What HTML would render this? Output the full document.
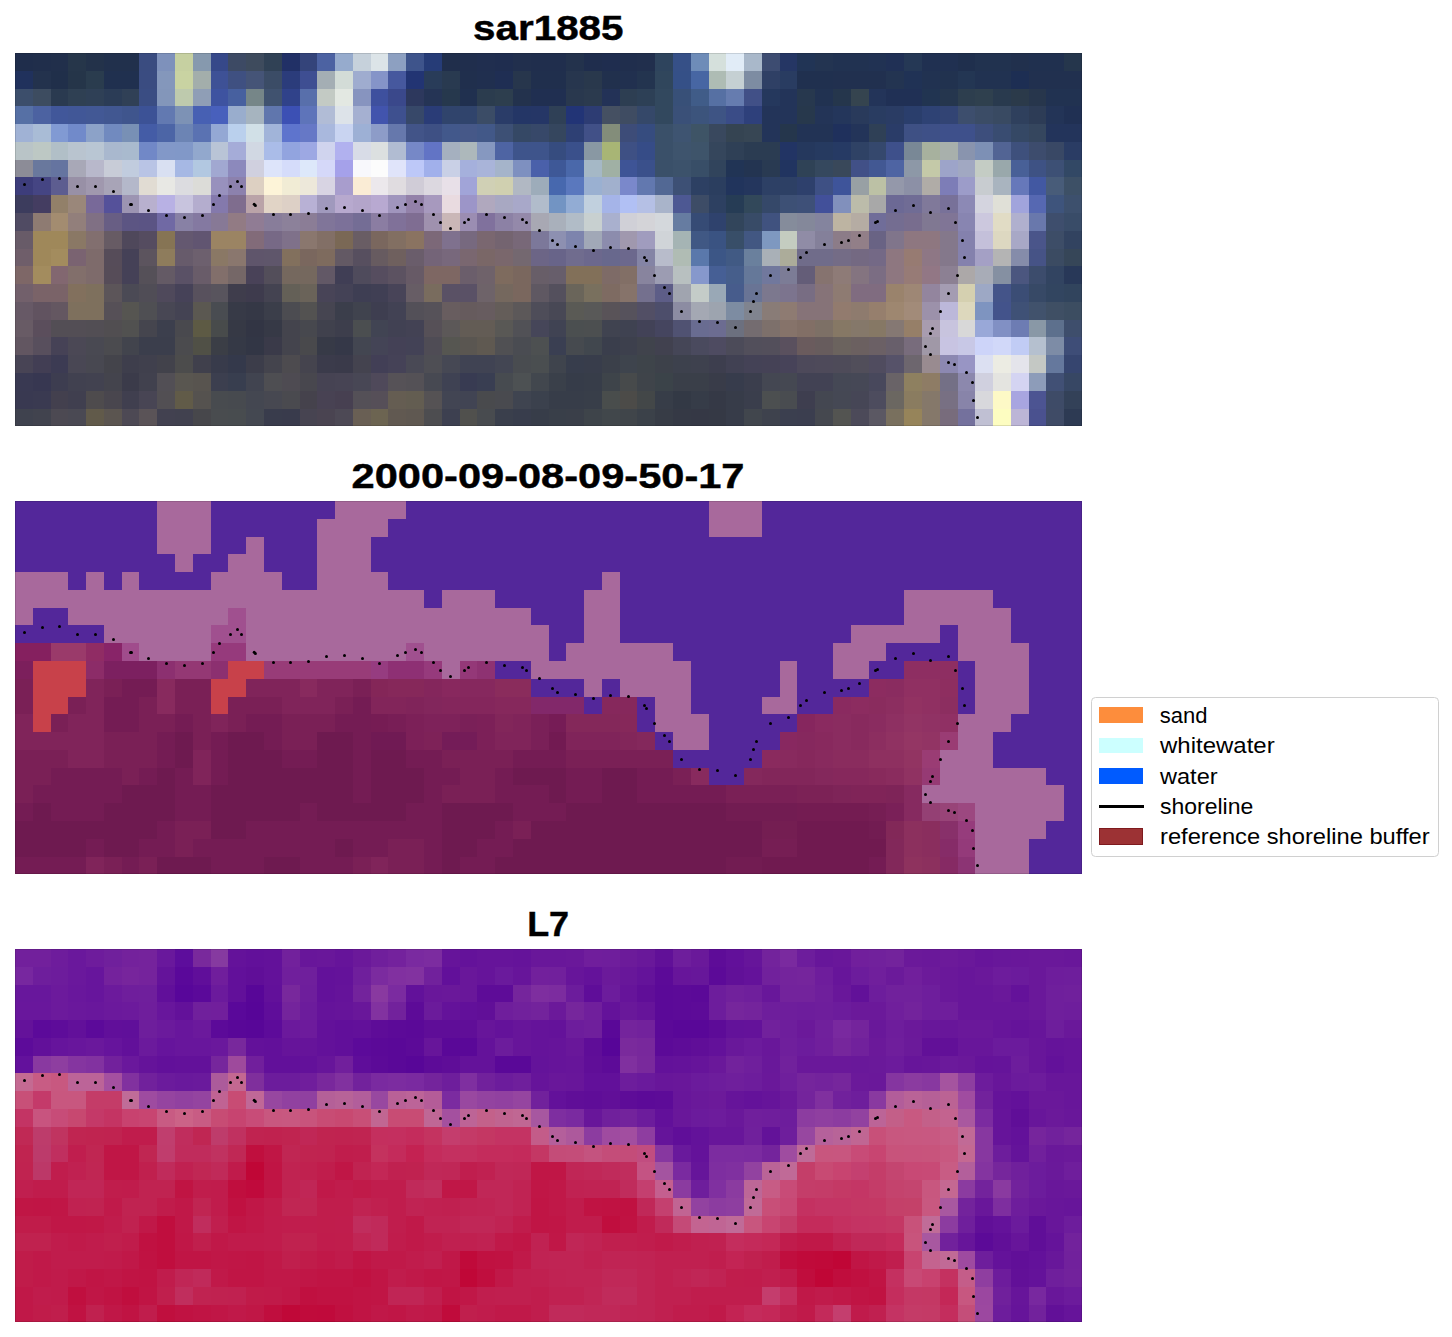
<!DOCTYPE html>
<html><head><meta charset="utf-8"><title>shoreline</title>
<style>
html,body{margin:0;padding:0;background:#fff}
body{width:1452px;height:1337px;position:relative;overflow:hidden;font-family:"Liberation Sans",sans-serif}
.g{position:absolute;display:block}
.t{position:absolute;left:15px;width:1067px;text-align:center;font-weight:bold;font-size:34.5px;line-height:40px;color:#000;white-space:nowrap;-webkit-text-stroke:0.45px #000}
.t span{display:inline-block;transform-origin:50% 50%}
.lg{position:absolute;left:1091.3px;top:697.2px;width:347.6px;height:159.4px;border:1.8px solid #d0d0d0;border-radius:4.5px;box-sizing:border-box;background:#fff}
.lt{position:absolute;left:1159.7px;font-size:22px;line-height:26px;color:#000;white-space:nowrap;transform-origin:0 50%}
.sw{position:absolute;left:1099.05px;width:43.8px;height:15.7px;display:block}
.rim{position:absolute;left:15px;width:1067px;height:373px;box-shadow:inset 0 0 0 1px rgba(0,0,0,0.12);pointer-events:none}
</style></head><body>
<div class="t" style="top:8.3px"><span style="transform:scaleX(1.17)">sar1885</span></div>
<svg class="g" style="left:15px;top:53px" width="1067" height="373.4" viewBox="0 0 60 21" preserveAspectRatio="none" shape-rendering="crispEdges"><path fill="#1f2d4b" d="M0 0h1v1H0z"/><path fill="#202e4b" d="M1 0h1v1H1z"/><path fill="#212f4b" d="M2 0h1v1H2z"/><path fill="#26364a" d="M3 0h1v1H3z"/><path fill="#23324a" d="M4 0h1v1H4z"/><path fill="#21304c" d="M5 0h2v1H5z"/><path fill="#3a4c80" d="M7 0h1v1H7z"/><path fill="#7e91bb" d="M8 0h1v1H8z"/><path fill="#c6d0a1" d="M9 0h1v1H9z"/><path fill="#8699ae" d="M10 0h1v1H10z"/><path fill="#364889" d="M11 0h1v1H11z"/><path fill="#3d4a64" d="M12 0h1v1H12z"/><path fill="#3e4b5d" d="M13 0h1v1H13z"/><path fill="#304155" d="M14 0h1v1H14z"/><path fill="#213066" d="M15 0h1v1H15z"/><path fill="#34447a" d="M16 0h1v1H16z"/><path fill="#4c62a2" d="M17 0h1v1H17z"/><path fill="#96abcd" d="M18 0h1v1H18z"/><path fill="#c6d1db" d="M19 0h1v1H19z"/><path fill="#dce4e8" d="M20 0h1v1H20z"/><path fill="#8da0c1" d="M21 0h1v1H21z"/><path fill="#3e548b" d="M22 0h1v1H22z"/><path fill="#263c77" d="M23 0h1v1H23z"/><path fill="#202e4b" d="M24 0h1v1H24z"/><path fill="#202e4d" d="M25 0h1v1H25z"/><path fill="#202e4f" d="M26 0h1v1H26z"/><path fill="#1f2d4f" d="M27 0h1v1H27z"/><path fill="#212f4d" d="M28 0h1v1H28z"/><path fill="#202e4d" d="M29 0h2v1H29z"/><path fill="#23324c" d="M31 0h1v1H31z"/><path fill="#1f2d4d" d="M32 0h1v1H32z"/><path fill="#1f2d4f" d="M33 0h1v1H33z"/><path fill="#202e4d" d="M34 0h1v1H34z"/><path fill="#212f4d" d="M35 0h1v1H35z"/><path fill="#2e445d" d="M36 0h1v1H36z"/><path fill="#365087" d="M37 0h1v1H37z"/><path fill="#6e8cb8" d="M38 0h1v1H38z"/><path fill="#d5e0dc" d="M39 0h1v1H39z"/><path fill="#e1ecf7" d="M40 0h1v1H40z"/><path fill="#a9b8ca" d="M41 0h1v1H41z"/><path fill="#3d4c71" d="M42 0h1v1H42z"/><path fill="#253664" d="M43 0h1v1H43z"/><path fill="#213455" d="M44 0h1v1H44z"/><path fill="#233451" d="M45 0h1v1H45z"/><path fill="#213251" d="M46 0h2v1H46z"/><path fill="#213253" d="M48 0h1v1H48z"/><path fill="#203055" d="M49 0h1v1H49z"/><path fill="#253855" d="M50 0h1v1H50z"/><path fill="#203051" d="M51 0h2v1H51z"/><path fill="#1f2f4d" d="M53 0h1v1H53z"/><path fill="#21324f" d="M54 0h2v1H54z"/><path fill="#21304d" d="M56 0h1v1H56z"/><path fill="#20304f" d="M57 0h2v1H57z"/><path fill="#25364c" d="M59 0h1v1H59z"/><path fill="#20315c" d="M0 1h1v1H0z"/><path fill="#23324d" d="M1 1h1v1H1z"/><path fill="#202f4a" d="M2 1h1v1H2z"/><path fill="#253549" d="M3 1h1v1H3z"/><path fill="#2a3c4e" d="M4 1h1v1H4z"/><path fill="#20304f" d="M5 1h2v1H5z"/><path fill="#3a4c81" d="M7 1h1v1H7z"/><path fill="#8497bb" d="M8 1h1v1H8z"/><path fill="#c9d3a2" d="M9 1h1v1H9z"/><path fill="#a3aeab" d="M10 1h1v1H10z"/><path fill="#3e5196" d="M11 1h1v1H11z"/><path fill="#3f5081" d="M12 1h1v1H12z"/><path fill="#455477" d="M13 1h1v1H13z"/><path fill="#3b4c66" d="M14 1h1v1H14z"/><path fill="#2b3c7b" d="M15 1h1v1H15z"/><path fill="#3e4e92" d="M16 1h1v1H16z"/><path fill="#a4aeb4" d="M17 1h1v1H17z"/><path fill="#d3dcd7" d="M18 1h1v1H18z"/><path fill="#9faccf" d="M19 1h1v1H19z"/><path fill="#8594c8" d="M20 1h1v1H20z"/><path fill="#46589e" d="M21 1h1v1H21z"/><path fill="#223473" d="M22 1h1v1H22z"/><path fill="#293c59" d="M23 1h1v1H23z"/><path fill="#293a50" d="M24 1h1v1H24z"/><path fill="#202f4d" d="M25 1h1v1H25z"/><path fill="#202f4f" d="M26 1h1v1H26z"/><path fill="#1f2e53" d="M27 1h1v1H27z"/><path fill="#27364c" d="M28 1h1v1H28z"/><path fill="#202f4d" d="M29 1h2v1H29z"/><path fill="#27364e" d="M31 1h1v1H31z"/><path fill="#29384c" d="M32 1h1v1H32z"/><path fill="#21304d" d="M33 1h1v1H33z"/><path fill="#21304f" d="M34 1h1v1H34z"/><path fill="#23344f" d="M35 1h1v1H35z"/><path fill="#30465c" d="M36 1h1v1H36z"/><path fill="#355087" d="M37 1h1v1H37z"/><path fill="#4766a3" d="M38 1h1v1H38z"/><path fill="#aebcb4" d="M39 1h1v1H39z"/><path fill="#c5d0d3" d="M40 1h1v1H40z"/><path fill="#7d8ca2" d="M41 1h1v1H41z"/><path fill="#2f4065" d="M42 1h1v1H42z"/><path fill="#293c61" d="M43 1h1v1H43z"/><path fill="#20304f" d="M44 1h2v1H44z"/><path fill="#21304f" d="M46 1h3v1H46z"/><path fill="#233451" d="M49 1h1v1H49z"/><path fill="#203255" d="M50 1h1v1H50z"/><path fill="#213251" d="M51 1h1v1H51z"/><path fill="#21324f" d="M52 1h1v1H52z"/><path fill="#233653" d="M53 1h1v1H53z"/><path fill="#213251" d="M54 1h2v1H54z"/><path fill="#1d2e53" d="M56 1h1v1H56z"/><path fill="#21304f" d="M57 1h3v1H57z"/><path fill="#3c4e6b" d="M0 2h1v1H0z"/><path fill="#3d4c60" d="M1 2h1v1H1z"/><path fill="#2a3a50" d="M2 2h1v1H2z"/><path fill="#2f4053" d="M3 2h1v1H3z"/><path fill="#2f4056" d="M4 2h1v1H4z"/><path fill="#2b3c56" d="M5 2h1v1H5z"/><path fill="#304056" d="M6 2h1v1H6z"/><path fill="#3a4d83" d="M7 2h1v1H7z"/><path fill="#8396ba" d="M8 2h1v1H8z"/><path fill="#becaad" d="M9 2h1v1H9z"/><path fill="#8f9eb6" d="M10 2h1v1H10z"/><path fill="#3e53a0" d="M11 2h1v1H11z"/><path fill="#47609f" d="M12 2h1v1H12z"/><path fill="#768688" d="M13 2h1v1H13z"/><path fill="#40526f" d="M14 2h1v1H14z"/><path fill="#30428a" d="M15 2h1v1H15z"/><path fill="#586fab" d="M16 2h1v1H16z"/><path fill="#c3cac4" d="M17 2h1v1H17z"/><path fill="#e3e8e2" d="M18 2h1v1H18z"/><path fill="#8794bf" d="M19 2h1v1H19z"/><path fill="#3e509e" d="M20 2h1v1H20z"/><path fill="#3a488b" d="M21 2h1v1H21z"/><path fill="#2d385d" d="M22 2h1v1H22z"/><path fill="#253455" d="M23 2h1v1H23z"/><path fill="#26384d" d="M24 2h1v1H24z"/><path fill="#20304f" d="M25 2h1v1H25z"/><path fill="#2b3c4e" d="M26 2h1v1H26z"/><path fill="#2d3e4e" d="M27 2h1v1H27z"/><path fill="#23324d" d="M28 2h1v1H28z"/><path fill="#202f51" d="M29 2h2v1H29z"/><path fill="#29384e" d="M31 2h1v1H31z"/><path fill="#2b3a4e" d="M32 2h1v1H32z"/><path fill="#233257" d="M33 2h1v1H33z"/><path fill="#2d3e52" d="M34 2h1v1H34z"/><path fill="#2d4056" d="M35 2h1v1H35z"/><path fill="#32485e" d="M36 2h1v1H36z"/><path fill="#385078" d="M37 2h1v1H37z"/><path fill="#405c88" d="M38 2h1v1H38z"/><path fill="#5670a3" d="M39 2h1v1H39z"/><path fill="#667caf" d="M40 2h1v1H40z"/><path fill="#415087" d="M41 2h1v1H41z"/><path fill="#25385d" d="M42 2h1v1H42z"/><path fill="#233459" d="M43 2h1v1H43z"/><path fill="#27384e" d="M44 2h1v1H44z"/><path fill="#213251" d="M45 2h1v1H45z"/><path fill="#25364c" d="M46 2h1v1H46z"/><path fill="#35444f" d="M47 2h1v1H47z"/><path fill="#233459" d="M48 2h1v1H48z"/><path fill="#203055" d="M49 2h2v1H49z"/><path fill="#213451" d="M51 2h1v1H51z"/><path fill="#25364e" d="M52 2h1v1H52z"/><path fill="#2d3e4e" d="M53 2h1v1H53z"/><path fill="#2f404e" d="M54 2h1v1H54z"/><path fill="#293a4e" d="M55 2h1v1H55z"/><path fill="#2b3a4a" d="M56 2h1v1H56z"/><path fill="#27364c" d="M57 2h1v1H57z"/><path fill="#213251" d="M58 2h2v1H58z"/><path fill="#5670a5" d="M0 3h1v1H0z"/><path fill="#4c62a1" d="M1 3h1v1H1z"/><path fill="#41579a" d="M2 3h1v1H2z"/><path fill="#415797" d="M3 3h1v1H3z"/><path fill="#425895" d="M4 3h1v1H4z"/><path fill="#415791" d="M5 3h1v1H5z"/><path fill="#3f558d" d="M6 3h1v1H6z"/><path fill="#3c5296" d="M7 3h1v1H7z"/><path fill="#6279b1" d="M8 3h1v1H8z"/><path fill="#7d92b5" d="M9 3h1v1H9z"/><path fill="#4760b3" d="M10 3h1v1H10z"/><path fill="#4860bc" d="M11 3h1v1H11z"/><path fill="#99adcd" d="M12 3h1v1H12z"/><path fill="#a6b4bf" d="M13 3h1v1H13z"/><path fill="#6076ad" d="M14 3h1v1H14z"/><path fill="#3c50b4" d="M15 3h1v1H15z"/><path fill="#5e74ba" d="M16 3h1v1H16z"/><path fill="#b1bcd6" d="M17 3h1v1H17z"/><path fill="#dde3e9" d="M18 3h1v1H18z"/><path fill="#a5b0d1" d="M19 3h1v1H19z"/><path fill="#4254ad" d="M20 3h1v1H20z"/><path fill="#3e508f" d="M21 3h1v1H21z"/><path fill="#374869" d="M22 3h1v1H22z"/><path fill="#2a3c77" d="M23 3h1v1H23z"/><path fill="#30446c" d="M24 3h2v1H24z"/><path fill="#3b4c66" d="M26 3h1v1H26z"/><path fill="#2a3c68" d="M27 3h1v1H27z"/><path fill="#243666" d="M28 3h1v1H28z"/><path fill="#253666" d="M29 3h1v1H29z"/><path fill="#2f4056" d="M30 3h1v1H30z"/><path fill="#223476" d="M31 3h1v1H31z"/><path fill="#2d3c73" d="M32 3h1v1H32z"/><path fill="#455062" d="M33 3h1v1H33z"/><path fill="#3f4c62" d="M34 3h1v1H34z"/><path fill="#354869" d="M35 3h1v1H35z"/><path fill="#32485e" d="M36 3h1v1H36z"/><path fill="#3a5078" d="M37 3h1v1H37z"/><path fill="#3c547c" d="M38 3h1v1H38z"/><path fill="#3e5484" d="M39 3h1v1H39z"/><path fill="#3a4c87" d="M40 3h1v1H40z"/><path fill="#2e407b" d="M41 3h1v1H41z"/><path fill="#233459" d="M42 3h2v1H42z"/><path fill="#27384c" d="M44 3h1v1H44z"/><path fill="#233457" d="M45 3h1v1H45z"/><path fill="#24365b" d="M46 3h1v1H46z"/><path fill="#293a5b" d="M47 3h1v1H47z"/><path fill="#293c61" d="M48 3h1v1H48z"/><path fill="#2a3c64" d="M49 3h1v1H49z"/><path fill="#2a3e6c" d="M50 3h1v1H50z"/><path fill="#2e4274" d="M51 3h1v1H51z"/><path fill="#324474" d="M52 3h1v1H52z"/><path fill="#3d4e6d" d="M53 3h1v1H53z"/><path fill="#3b4c66" d="M54 3h1v1H54z"/><path fill="#394a62" d="M55 3h1v1H55z"/><path fill="#2f405d" d="M56 3h1v1H56z"/><path fill="#2d3c56" d="M57 3h1v1H57z"/><path fill="#233457" d="M58 3h1v1H58z"/><path fill="#203053" d="M59 3h1v1H59z"/><path fill="#a0b2d5" d="M0 4h1v1H0z"/><path fill="#a9bcd6" d="M1 4h1v1H1z"/><path fill="#819ad3" d="M2 4h1v1H2z"/><path fill="#718aca" d="M3 4h1v1H3z"/><path fill="#8ca2c8" d="M4 4h1v1H4z"/><path fill="#718abf" d="M5 4h1v1H5z"/><path fill="#7890b5" d="M6 4h1v1H6z"/><path fill="#445ca6" d="M7 4h1v1H7z"/><path fill="#4c65a6" d="M8 4h1v1H8z"/><path fill="#6c84b4" d="M9 4h1v1H9z"/><path fill="#5a72b2" d="M10 4h1v1H10z"/><path fill="#94a8d4" d="M11 4h1v1H11z"/><path fill="#bad0ed" d="M12 4h1v1H12z"/><path fill="#d1e0e7" d="M13 4h1v1H13z"/><path fill="#a1b4d9" d="M14 4h1v1H14z"/><path fill="#5e74cd" d="M15 4h1v1H15z"/><path fill="#6678c6" d="M16 4h1v1H16z"/><path fill="#a9b8dd" d="M17 4h1v1H17z"/><path fill="#c9d4f1" d="M18 4h1v1H18z"/><path fill="#9db0d5" d="M19 4h1v1H19z"/><path fill="#8d9cc8" d="M20 4h1v1H20z"/><path fill="#6678ac" d="M21 4h1v1H21z"/><path fill="#425488" d="M22 4h1v1H22z"/><path fill="#3e5084" d="M23 4h1v1H23z"/><path fill="#42588b" d="M24 4h1v1H24z"/><path fill="#465888" d="M25 4h1v1H25z"/><path fill="#425888" d="M26 4h1v1H26z"/><path fill="#3d5075" d="M27 4h1v1H27z"/><path fill="#354865" d="M28 4h1v1H28z"/><path fill="#374869" d="M29 4h1v1H29z"/><path fill="#35465e" d="M30 4h1v1H30z"/><path fill="#2e4074" d="M31 4h1v1H31z"/><path fill="#415087" d="M32 4h1v1H32z"/><path fill="#838d7a" d="M33 4h1v1H33z"/><path fill="#3d4c78" d="M34 4h1v1H34z"/><path fill="#364c7f" d="M35 4h1v1H35z"/><path fill="#3a5069" d="M36 4h1v1H36z"/><path fill="#3e5471" d="M37 4h1v1H37z"/><path fill="#3e5466" d="M38 4h1v1H38z"/><path fill="#39485e" d="M39 4h1v1H39z"/><path fill="#354452" d="M40 4h1v1H40z"/><path fill="#374654" d="M41 4h1v1H41z"/><path fill="#233459" d="M42 4h1v1H42z"/><path fill="#25364c" d="M43 4h1v1H43z"/><path fill="#223355" d="M44 4h2v1H44z"/><path fill="#1f305c" d="M46 4h1v1H46z"/><path fill="#233459" d="M47 4h1v1H47z"/><path fill="#2f4056" d="M48 4h1v1H48z"/><path fill="#2a3c68" d="M49 4h1v1H49z"/><path fill="#3e5084" d="M50 4h1v1H50z"/><path fill="#3e5087" d="M51 4h1v1H51z"/><path fill="#3e508b" d="M52 4h2v1H52z"/><path fill="#3d4e7c" d="M54 4h1v1H54z"/><path fill="#394c71" d="M55 4h1v1H55z"/><path fill="#354865" d="M56 4h1v1H56z"/><path fill="#35465e" d="M57 4h1v1H57z"/><path fill="#23345b" d="M58 4h2v1H58z"/><path fill="#b9c4c7" d="M0 5h1v1H0z"/><path fill="#bdc8c4" d="M1 5h1v1H1z"/><path fill="#b1bfc7" d="M2 5h1v1H2z"/><path fill="#b9c4cf" d="M3 5h1v1H3z"/><path fill="#b9c6d3" d="M4 5h1v1H4z"/><path fill="#a9b8ce" d="M5 5h1v1H5z"/><path fill="#a9bace" d="M6 5h1v1H6z"/><path fill="#7188c7" d="M7 5h1v1H7z"/><path fill="#8298c8" d="M8 5h1v1H8z"/><path fill="#8198c8" d="M9 5h1v1H9z"/><path fill="#92a8cd" d="M10 5h1v1H10z"/><path fill="#b9c4d6" d="M11 5h1v1H11z"/><path fill="#a5acd8" d="M12 5h1v1H12z"/><path fill="#d1d8e3" d="M13 5h1v1H13z"/><path fill="#aabce8" d="M14 5h1v1H14z"/><path fill="#92a4df" d="M15 5h1v1H15z"/><path fill="#9da8e3" d="M16 5h1v1H16z"/><path fill="#d0d4ee" d="M17 5h1v1H17z"/><path fill="#b1b1ef" d="M18 5h1v1H18z"/><path fill="#d8dce7" d="M19 5h1v1H19z"/><path fill="#dce0e0" d="M20 5h1v1H20z"/><path fill="#b1bcd2" d="M21 5h1v1H21z"/><path fill="#7688c7" d="M22 5h1v1H22z"/><path fill="#6274c5" d="M23 5h1v1H23z"/><path fill="#a5b0bf" d="M24 5h1v1H24z"/><path fill="#adb8bb" d="M25 5h1v1H25z"/><path fill="#8698c0" d="M26 5h1v1H26z"/><path fill="#4e64a3" d="M27 5h1v1H27z"/><path fill="#3e548b" d="M28 5h2v1H28z"/><path fill="#364c7f" d="M30 5h1v1H30z"/><path fill="#3a508b" d="M31 5h1v1H31z"/><path fill="#8998a3" d="M32 5h1v1H32z"/><path fill="#a8b575" d="M33 5h1v1H33z"/><path fill="#3e5084" d="M34 5h1v1H34z"/><path fill="#364c87" d="M35 5h1v1H35z"/><path fill="#3a5069" d="M36 5h1v1H36z"/><path fill="#3e546d" d="M37 5h1v1H37z"/><path fill="#3e546a" d="M38 5h1v1H38z"/><path fill="#35465c" d="M39 5h1v1H39z"/><path fill="#2f4056" d="M40 5h1v1H40z"/><path fill="#2b3c52" d="M41 5h2v1H41z"/><path fill="#223464" d="M43 5h1v1H43z"/><path fill="#25385d" d="M44 5h1v1H44z"/><path fill="#263a60" d="M45 5h1v1H45z"/><path fill="#263a64" d="M46 5h1v1H46z"/><path fill="#2f4265" d="M47 5h1v1H47z"/><path fill="#35486d" d="M48 5h1v1H48z"/><path fill="#3e508b" d="M49 5h1v1H49z"/><path fill="#798896" d="M50 5h1v1H50z"/><path fill="#a7b19e" d="M51 5h1v1H51z"/><path fill="#a8b0ac" d="M52 5h1v1H52z"/><path fill="#8994ae" d="M53 5h1v1H53z"/><path fill="#7d90b5" d="M54 5h1v1H54z"/><path fill="#526494" d="M55 5h1v1H55z"/><path fill="#3e507c" d="M56 5h1v1H56z"/><path fill="#3d4c6d" d="M57 5h1v1H57z"/><path fill="#394865" d="M58 5h1v1H58z"/><path fill="#2a3c64" d="M59 5h1v1H59z"/><path fill="#8c8c97" d="M0 6h1v1H0z"/><path fill="#69789d" d="M1 6h1v1H1z"/><path fill="#6574a0" d="M2 6h1v1H2z"/><path fill="#a8a8b7" d="M3 6h1v1H3z"/><path fill="#b8b8cb" d="M4 6h1v1H4z"/><path fill="#c8ccd7" d="M5 6h1v1H5z"/><path fill="#c1ccde" d="M6 6h1v1H6z"/><path fill="#b9c4e5" d="M7 6h1v1H7z"/><path fill="#d9e0f2" d="M8 6h1v1H8z"/><path fill="#a6b8e4" d="M9 6h1v1H9z"/><path fill="#b2c8e1" d="M10 6h1v1H10z"/><path fill="#a1a8d1" d="M11 6h1v1H11z"/><path fill="#8c89bc" d="M12 6h1v1H12z"/><path fill="#d0d0df" d="M13 6h1v1H13z"/><path fill="#dde4fa" d="M14 6h1v1H14z"/><path fill="#d5dcfa" d="M15 6h1v1H15z"/><path fill="#dde8fa" d="M16 6h1v1H16z"/><path fill="#d5d8f9" d="M17 6h1v1H17z"/><path fill="#a5a1ea" d="M18 6h1v1H18z"/><path fill="#f8f8fc" d="M19 6h1v1H19z"/><path fill="#fcfcfc" d="M20 6h1v1H20z"/><path fill="#e0e4fa" d="M21 6h1v1H21z"/><path fill="#bdc8f8" d="M22 6h1v1H22z"/><path fill="#a1b0eb" d="M23 6h1v1H23z"/><path fill="#c9d0e6" d="M24 6h1v1H24z"/><path fill="#a5b0dc" d="M25 6h1v1H25z"/><path fill="#a9b4d9" d="M26 6h1v1H26z"/><path fill="#a5b4ca" d="M27 6h1v1H27z"/><path fill="#7e90c0" d="M28 6h1v1H28z"/><path fill="#4a60aa" d="M29 6h1v1H29z"/><path fill="#3e5897" d="M30 6h1v1H30z"/><path fill="#4a68aa" d="M31 6h1v1H31z"/><path fill="#a5b8c6" d="M32 6h1v1H32z"/><path fill="#a0b0a4" d="M33 6h1v1H33z"/><path fill="#3e5496" d="M34 6h1v1H34z"/><path fill="#3a508b" d="M35 6h1v1H35z"/><path fill="#3a5069" d="M36 6h1v1H36z"/><path fill="#3c526b" d="M37 6h1v1H37z"/><path fill="#384e67" d="M38 6h1v1H38z"/><path fill="#31445c" d="M39 6h1v1H39z"/><path fill="#213455" d="M40 6h1v1H40z"/><path fill="#233451" d="M41 6h1v1H41z"/><path fill="#293a52" d="M42 6h1v1H42z"/><path fill="#213460" d="M43 6h1v1H43z"/><path fill="#2f4256" d="M44 6h1v1H44z"/><path fill="#35485e" d="M45 6h1v1H45z"/><path fill="#39485a" d="M46 6h1v1H46z"/><path fill="#415087" d="M47 6h1v1H47z"/><path fill="#425893" d="M48 6h1v1H48z"/><path fill="#4e64a3" d="M49 6h1v1H49z"/><path fill="#8d98a7" d="M50 6h1v1H50z"/><path fill="#c4c9a8" d="M51 6h1v1H51z"/><path fill="#9da4c9" d="M52 6h1v1H52z"/><path fill="#a1a8c2" d="M53 6h1v1H53z"/><path fill="#c4ccc4" d="M54 6h1v1H54z"/><path fill="#99a8ab" d="M55 6h1v1H55z"/><path fill="#486097" d="M56 6h1v1H56z"/><path fill="#3e5284" d="M57 6h1v1H57z"/><path fill="#3d5075" d="M58 6h1v1H58z"/><path fill="#324865" d="M59 6h1v1H59z"/><path fill="#3d3d7b" d="M0 7h1v1H0z"/><path fill="#454583" d="M1 7h1v1H1z"/><path fill="#5d5d90" d="M2 7h1v1H2z"/><path fill="#9890a6" d="M3 7h1v1H3z"/><path fill="#a098ae" d="M4 7h1v1H4z"/><path fill="#a8a4b7" d="M5 7h1v1H5z"/><path fill="#b4b8ca" d="M6 7h1v1H6z"/><path fill="#e1dcd3" d="M7 7h1v1H7z"/><path fill="#e8e8e4" d="M8 7h1v1H8z"/><path fill="#dcdce0" d="M9 7h1v1H9z"/><path fill="#dcdcd8" d="M10 7h1v1H10z"/><path fill="#9891bd" d="M11 7h1v1H11z"/><path fill="#8c81ad" d="M12 7h1v1H12z"/><path fill="#ddd0c2" d="M13 7h1v1H13z"/><path fill="#fdf4d8" d="M14 7h1v1H14z"/><path fill="#f1ecd5" d="M15 7h1v1H15z"/><path fill="#ede8da" d="M16 7h1v1H16z"/><path fill="#d8d4e3" d="M17 7h1v1H17z"/><path fill="#a89dcd" d="M18 7h1v1H18z"/><path fill="#faecd5" d="M19 7h1v1H19z"/><path fill="#ece8ec" d="M20 7h1v1H20z"/><path fill="#e0dce0" d="M21 7h1v1H21z"/><path fill="#d0ccd7" d="M22 7h1v1H22z"/><path fill="#dcd8e0" d="M23 7h1v1H23z"/><path fill="#e8e0e8" d="M24 7h1v1H24z"/><path fill="#a1a4d8" d="M25 7h1v1H25z"/><path fill="#d0d0b5" d="M26 7h1v1H26z"/><path fill="#d0d0b0" d="M27 7h1v1H27z"/><path fill="#b1b8c3" d="M28 7h1v1H28z"/><path fill="#9dacba" d="M29 7h1v1H29z"/><path fill="#4768ae" d="M30 7h1v1H30z"/><path fill="#5a78be" d="M31 7h1v1H31z"/><path fill="#9ab0d1" d="M32 7h1v1H32z"/><path fill="#a1b0cd" d="M33 7h1v1H33z"/><path fill="#7a88cb" d="M34 7h1v1H34z"/><path fill="#6278af" d="M35 7h1v1H35z"/><path fill="#526894" d="M36 7h1v1H36z"/><path fill="#3d5075" d="M37 7h1v1H37z"/><path fill="#2d4063" d="M38 7h1v1H38z"/><path fill="#2b3e5f" d="M39 7h1v1H39z"/><path fill="#21345c" d="M40 7h1v1H40z"/><path fill="#24365d" d="M41 7h1v1H41z"/><path fill="#2d4065" d="M42 7h2v1H42z"/><path fill="#2e406c" d="M44 7h1v1H44z"/><path fill="#3e5084" d="M45 7h1v1H45z"/><path fill="#3e549a" d="M46 7h1v1H46z"/><path fill="#98a0a4" d="M47 7h1v1H47z"/><path fill="#bcc1a5" d="M48 7h1v1H48z"/><path fill="#9498aa" d="M49 7h1v1H49z"/><path fill="#8c90a6" d="M50 7h1v1H50z"/><path fill="#b0aca7" d="M51 7h1v1H51z"/><path fill="#7d7db7" d="M52 7h1v1H52z"/><path fill="#9c9cc9" d="M53 7h1v1H53z"/><path fill="#c8ccd0" d="M54 7h1v1H54z"/><path fill="#a9b4bf" d="M55 7h1v1H55z"/><path fill="#6678ba" d="M56 7h1v1H56z"/><path fill="#4258a2" d="M57 7h1v1H57z"/><path fill="#485c79" d="M58 7h1v1H58z"/><path fill="#3d5066" d="M59 7h1v1H59z"/><path fill="#3c3c5d" d="M0 8h1v1H0z"/><path fill="#443d61" d="M1 8h1v1H1z"/><path fill="#928069" d="M2 8h1v1H2z"/><path fill="#9a877a" d="M3 8h1v1H3z"/><path fill="#786999" d="M4 8h1v1H4z"/><path fill="#55519a" d="M5 8h1v1H5z"/><path fill="#9c94b2" d="M6 8h1v1H6z"/><path fill="#b8b0ce" d="M7 8h1v1H7z"/><path fill="#b8b1e4" d="M8 8h1v1H8z"/><path fill="#c8c4de" d="M9 8h1v1H9z"/><path fill="#b4adce" d="M10 8h1v1H10z"/><path fill="#8479ac" d="M11 8h1v1H11z"/><path fill="#7f6d8e" d="M12 8h1v1H12z"/><path fill="#baa3a8" d="M13 8h1v1H13z"/><path fill="#e1d4c6" d="M14 8h1v1H14z"/><path fill="#ddd0c6" d="M15 8h1v1H15z"/><path fill="#b8b1d5" d="M16 8h1v1H16z"/><path fill="#a099bd" d="M17 8h1v1H17z"/><path fill="#b7a9ce" d="M18 8h1v1H18z"/><path fill="#b3a5ca" d="M19 8h1v1H19z"/><path fill="#b8a9d1" d="M20 8h1v1H20z"/><path fill="#a095bd" d="M21 8h1v1H21z"/><path fill="#9381a9" d="M22 8h1v1H22z"/><path fill="#a799be" d="M23 8h1v1H23z"/><path fill="#e9dbe0" d="M24 8h1v1H24z"/><path fill="#9c95c8" d="M25 8h1v1H25z"/><path fill="#b0a8be" d="M26 8h1v1H26z"/><path fill="#a8a8c2" d="M27 8h1v1H27z"/><path fill="#a8a8c9" d="M28 8h1v1H28z"/><path fill="#b1bccb" d="M29 8h1v1H29z"/><path fill="#7294c3" d="M30 8h1v1H30z"/><path fill="#92acd4" d="M31 8h1v1H31z"/><path fill="#c1d0de" d="M32 8h1v1H32z"/><path fill="#a5b4e8" d="M33 8h1v1H33z"/><path fill="#b1c0f4" d="M34 8h1v1H34z"/><path fill="#b5c0e5" d="M35 8h1v1H35z"/><path fill="#a9b4ca" d="M36 8h1v1H36z"/><path fill="#4d5893" d="M37 8h1v1H37z"/><path fill="#3d4c66" d="M38 8h1v1H38z"/><path fill="#2d4061" d="M39 8h1v1H39z"/><path fill="#263c55" d="M40 8h1v1H40z"/><path fill="#32485a" d="M41 8h1v1H41z"/><path fill="#354869" d="M42 8h1v1H42z"/><path fill="#3d5075" d="M43 8h1v1H43z"/><path fill="#3e5078" d="M44 8h1v1H44z"/><path fill="#42509a" d="M45 8h1v1H45z"/><path fill="#8190bc" d="M46 8h1v1H46z"/><path fill="#bcbcaa" d="M47 8h1v1H47z"/><path fill="#a8a8a8" d="M48 8h1v1H48z"/><path fill="#6c6995" d="M49 8h1v1H49z"/><path fill="#706c95" d="M50 8h1v1H50z"/><path fill="#80799a" d="M51 8h1v1H51z"/><path fill="#787199" d="M52 8h1v1H52z"/><path fill="#8c89b5" d="M53 8h1v1H53z"/><path fill="#d4d4df" d="M54 8h1v1H54z"/><path fill="#e0e0d7" d="M55 8h1v1H55z"/><path fill="#a1a4dc" d="M56 8h1v1H56z"/><path fill="#5668b2" d="M57 8h1v1H57z"/><path fill="#3e547c" d="M58 8h1v1H58z"/><path fill="#3d506d" d="M59 8h1v1H59z"/><path fill="#504b63" d="M0 9h1v1H0z"/><path fill="#8e7b72" d="M1 9h1v1H1z"/><path fill="#a38c70" d="M2 9h1v1H2z"/><path fill="#927f7b" d="M3 9h1v1H3z"/><path fill="#807084" d="M4 9h1v1H4z"/><path fill="#685e84" d="M5 9h1v1H5z"/><path fill="#5c5583" d="M6 9h1v1H6z"/><path fill="#5b5484" d="M7 9h1v1H7z"/><path fill="#7069a4" d="M8 9h1v1H8z"/><path fill="#8881a5" d="M9 9h1v1H9z"/><path fill="#8479a1" d="M10 9h1v1H10z"/><path fill="#877996" d="M11 9h1v1H11z"/><path fill="#927b84" d="M12 9h1v1H12z"/><path fill="#907c94" d="M13 9h1v1H13z"/><path fill="#887d9a" d="M14 9h1v1H14z"/><path fill="#8c819a" d="M15 9h1v1H15z"/><path fill="#8b7d96" d="M16 9h1v1H16z"/><path fill="#807599" d="M17 9h1v1H17z"/><path fill="#7c7199" d="M18 9h1v1H18z"/><path fill="#746d95" d="M19 9h1v1H19z"/><path fill="#8b7da2" d="M20 9h1v1H20z"/><path fill="#807199" d="M21 9h1v1H21z"/><path fill="#7f6d92" d="M22 9h1v1H22z"/><path fill="#9f91ae" d="M23 9h1v1H23z"/><path fill="#cab7b7" d="M24 9h1v1H24z"/><path fill="#9b8db2" d="M25 9h1v1H25z"/><path fill="#80719d" d="M26 9h1v1H26z"/><path fill="#8c81a5" d="M27 9h1v1H27z"/><path fill="#9489aa" d="M28 9h1v1H28z"/><path fill="#a8a8b3" d="M29 9h1v1H29z"/><path fill="#a9b0bb" d="M30 9h1v1H30z"/><path fill="#b1bcc7" d="M31 9h1v1H31z"/><path fill="#c8d0d0" d="M32 9h1v1H32z"/><path fill="#a9b0ce" d="M33 9h1v1H33z"/><path fill="#d0d0d7" d="M34 9h1v1H34z"/><path fill="#d4d4d8" d="M35 9h1v1H35z"/><path fill="#d4d8dc" d="M36 9h1v1H36z"/><path fill="#667ca1" d="M37 9h1v1H37z"/><path fill="#364b75" d="M38 9h1v1H38z"/><path fill="#2f426d" d="M39 9h1v1H39z"/><path fill="#32455b" d="M40 9h1v1H40z"/><path fill="#384b67" d="M41 9h1v1H41z"/><path fill="#40527f" d="M42 9h1v1H42z"/><path fill="#858c9b" d="M43 9h1v1H43z"/><path fill="#84889a" d="M44 9h1v1H44z"/><path fill="#84849e" d="M45 9h1v1H45z"/><path fill="#bdb4a2" d="M46 9h1v1H46z"/><path fill="#b5aca3" d="M47 9h1v1H47z"/><path fill="#706d99" d="M48 9h1v1H48z"/><path fill="#746d91" d="M49 9h1v1H49z"/><path fill="#786d8e" d="M50 9h1v1H50z"/><path fill="#807892" d="M51 9h1v1H51z"/><path fill="#807596" d="M52 9h1v1H52z"/><path fill="#8885b1" d="M53 9h1v1H53z"/><path fill="#ccc8de" d="M54 9h1v1H54z"/><path fill="#e1dcc5" d="M55 9h1v1H55z"/><path fill="#b0b0ce" d="M56 9h1v1H56z"/><path fill="#6978ac" d="M57 9h1v1H57z"/><path fill="#3e4e6d" d="M58 9h1v1H58z"/><path fill="#394c68" d="M59 9h1v1H59z"/><path fill="#685b68" d="M0 10h1v1H0z"/><path fill="#9f885a" d="M1 10h2v1H1z"/><path fill="#8a7865" d="M3 10h1v1H3z"/><path fill="#826f6f" d="M4 10h1v1H4z"/><path fill="#675b64" d="M5 10h1v1H5z"/><path fill="#4f485b" d="M6 10h1v1H6z"/><path fill="#554c60" d="M7 10h1v1H7z"/><path fill="#867454" d="M8 10h1v1H8z"/><path fill="#645870" d="M9 10h1v1H9z"/><path fill="#615571" d="M10 10h1v1H10z"/><path fill="#9b8463" d="M11 10h2v1H11z"/><path fill="#826b79" d="M13 10h1v1H13z"/><path fill="#776986" d="M14 10h1v1H14z"/><path fill="#7f718a" d="M15 10h1v1H15z"/><path fill="#8a776e" d="M16 10h1v1H16z"/><path fill="#826f66" d="M17 10h1v1H17z"/><path fill="#7a6855" d="M18 10h1v1H18z"/><path fill="#695d64" d="M19 10h1v1H19z"/><path fill="#7a675e" d="M20 10h1v1H20z"/><path fill="#826f62" d="M21 10h1v1H21z"/><path fill="#8a7361" d="M22 10h1v1H22z"/><path fill="#7c6878" d="M23 10h1v1H23z"/><path fill="#7f718e" d="M24 10h1v1H24z"/><path fill="#77697f" d="M25 10h1v1H25z"/><path fill="#7a6770" d="M26 10h1v1H26z"/><path fill="#746470" d="M27 10h1v1H27z"/><path fill="#786878" d="M28 10h1v1H28z"/><path fill="#7c789a" d="M29 10h1v1H29z"/><path fill="#8d90b1" d="M30 10h1v1H30z"/><path fill="#7d84ad" d="M31 10h1v1H31z"/><path fill="#a1a8b7" d="M32 10h1v1H32z"/><path fill="#8c8cad" d="M33 10h1v1H33z"/><path fill="#a098ae" d="M34 10h1v1H34z"/><path fill="#a09cbe" d="M35 10h1v1H35z"/><path fill="#d0d4d8" d="M36 10h1v1H36z"/><path fill="#a5b4b4" d="M37 10h1v1H37z"/><path fill="#405884" d="M38 10h1v1H38z"/><path fill="#3a5382" d="M39 10h1v1H39z"/><path fill="#384e68" d="M40 10h1v1H40z"/><path fill="#425782" d="M41 10h1v1H41z"/><path fill="#7e98c0" d="M42 10h1v1H42z"/><path fill="#c4ccc0" d="M43 10h1v1H43z"/><path fill="#908ca6" d="M44 10h1v1H44z"/><path fill="#84809a" d="M45 10h1v1H45z"/><path fill="#8c7c88" d="M46 10h1v1H46z"/><path fill="#927f88" d="M47 10h1v1H47z"/><path fill="#696384" d="M48 10h1v1H48z"/><path fill="#80758b" d="M49 10h1v1H49z"/><path fill="#8e7780" d="M50 10h2v1H50z"/><path fill="#84788b" d="M52 10h1v1H52z"/><path fill="#8481ad" d="M53 10h1v1H53z"/><path fill="#c4c0da" d="M54 10h1v1H54z"/><path fill="#ddd8c1" d="M55 10h1v1H55z"/><path fill="#a8a8c6" d="M56 10h1v1H56z"/><path fill="#4a558a" d="M57 10h1v1H57z"/><path fill="#3d4d67" d="M58 10h1v1H58z"/><path fill="#324360" d="M59 10h1v1H59z"/><path fill="#6f5e6a" d="M0 11h1v1H0z"/><path fill="#9f885a" d="M1 11h1v1H1z"/><path fill="#a38c5e" d="M2 11h1v1H2z"/><path fill="#7a6371" d="M3 11h1v1H3z"/><path fill="#7e6b6b" d="M4 11h1v1H4z"/><path fill="#564c59" d="M5 11h1v1H5z"/><path fill="#454157" d="M6 11h1v1H6z"/><path fill="#5c545e" d="M7 11h1v1H7z"/><path fill="#8e7c5c" d="M8 11h1v1H8z"/><path fill="#675b6b" d="M9 11h1v1H9z"/><path fill="#6d606e" d="M10 11h1v1H10z"/><path fill="#8a7865" d="M11 11h1v1H11z"/><path fill="#8a776e" d="M12 11h1v1H12z"/><path fill="#5f556b" d="M13 11h1v1H13z"/><path fill="#5f566b" d="M14 11h1v1H14z"/><path fill="#82705d" d="M15 11h1v1H15z"/><path fill="#7a675e" d="M16 11h1v1H16z"/><path fill="#7e6b5e" d="M17 11h1v1H17z"/><path fill="#635964" d="M18 11h1v1H18z"/><path fill="#574f5f" d="M19 11h1v1H19z"/><path fill="#675b60" d="M20 11h1v1H20z"/><path fill="#6f605e" d="M21 11h1v1H21z"/><path fill="#6a5d6b" d="M22 11h1v1H22z"/><path fill="#746478" d="M23 11h1v1H23z"/><path fill="#78687c" d="M24 11h1v1H24z"/><path fill="#7a6770" d="M25 11h1v1H25z"/><path fill="#7a6767" d="M26 11h1v1H26z"/><path fill="#7a676c" d="M27 11h1v1H27z"/><path fill="#746870" d="M28 11h1v1H28z"/><path fill="#6c6586" d="M29 11h1v1H29z"/><path fill="#686489" d="M30 11h1v1H30z"/><path fill="#706c8e" d="M31 11h1v1H31z"/><path fill="#6c688d" d="M32 11h1v1H32z"/><path fill="#68688d" d="M33 11h1v1H33z"/><path fill="#6c688d" d="M34 11h1v1H34z"/><path fill="#8484a5" d="M35 11h1v1H35z"/><path fill="#b8bccb" d="M36 11h1v1H36z"/><path fill="#b0bcb4" d="M37 11h1v1H37z"/><path fill="#5a78ab" d="M38 11h1v1H38z"/><path fill="#3c5686" d="M39 11h1v1H39z"/><path fill="#415a84" d="M40 11h1v1H40z"/><path fill="#6a809d" d="M41 11h1v1H41z"/><path fill="#a9b0b7" d="M42 11h1v1H42z"/><path fill="#acac9a" d="M43 11h1v1H43z"/><path fill="#706c8a" d="M44 11h2v1H44z"/><path fill="#746c86" d="M46 11h1v1H46z"/><path fill="#746982" d="M47 11h1v1H47z"/><path fill="#746986" d="M48 11h1v1H48z"/><path fill="#8e7780" d="M49 11h1v1H49z"/><path fill="#977b72" d="M50 11h1v1H50z"/><path fill="#8e7785" d="M51 11h1v1H51z"/><path fill="#84788b" d="M52 11h1v1H52z"/><path fill="#8481ad" d="M53 11h1v1H53z"/><path fill="#a4a0c5" d="M54 11h1v1H54z"/><path fill="#b4b4b4" d="M55 11h1v1H55z"/><path fill="#858caa" d="M56 11h1v1H56z"/><path fill="#465386" d="M57 11h1v1H57z"/><path fill="#3b4b62" d="M58 11h1v1H58z"/><path fill="#364658" d="M59 11h1v1H59z"/><path fill="#7e6767" d="M0 12h1v1H0z"/><path fill="#a38c5e" d="M1 12h1v1H1z"/><path fill="#826770" d="M2 12h1v1H2z"/><path fill="#826f6b" d="M3 12h1v1H3z"/><path fill="#7e6b6b" d="M4 12h1v1H4z"/><path fill="#564c58" d="M5 12h1v1H5z"/><path fill="#454157" d="M6 12h1v1H6z"/><path fill="#555058" d="M7 12h1v1H7z"/><path fill="#645a65" d="M8 12h1v1H8z"/><path fill="#5a5166" d="M9 12h1v1H9z"/><path fill="#695c69" d="M10 12h1v1H10z"/><path fill="#826f6b" d="M11 12h1v1H11z"/><path fill="#756767" d="M12 12h1v1H12z"/><path fill="#494258" d="M13 12h1v1H13z"/><path fill="#534e5a" d="M14 12h1v1H14z"/><path fill="#75685e" d="M15 12h2v1H15z"/><path fill="#625866" d="M17 12h1v1H17z"/><path fill="#403e55" d="M18 12h1v1H18z"/><path fill="#4f4b5c" d="M19 12h1v1H19z"/><path fill="#564d5f" d="M20 12h1v1H20z"/><path fill="#5c5261" d="M21 12h1v1H21z"/><path fill="#675a66" d="M22 12h1v1H22z"/><path fill="#7e6763" d="M23 12h2v1H23z"/><path fill="#6b5e6b" d="M25 12h1v1H25z"/><path fill="#6f626a" d="M26 12h1v1H26z"/><path fill="#7e6b5e" d="M27 12h1v1H27z"/><path fill="#7a675e" d="M28 12h1v1H28z"/><path fill="#685e68" d="M29 12h1v1H29z"/><path fill="#675e6b" d="M30 12h1v1H30z"/><path fill="#827059" d="M31 12h2v1H31z"/><path fill="#7e6b67" d="M33 12h1v1H33z"/><path fill="#826f66" d="M34 12h1v1H34z"/><path fill="#88849e" d="M35 12h1v1H35z"/><path fill="#9c9cb2" d="M36 12h1v1H36z"/><path fill="#b8c0c0" d="M37 12h1v1H37z"/><path fill="#8698cc" d="M38 12h1v1H38z"/><path fill="#465f95" d="M39 12h1v1H39z"/><path fill="#465e8b" d="M40 12h1v1H40z"/><path fill="#657899" d="M41 12h1v1H41z"/><path fill="#71789d" d="M42 12h1v1H42z"/><path fill="#7c7c96" d="M43 12h1v1H43z"/><path fill="#645d78" d="M44 12h1v1H44z"/><path fill="#86736f" d="M45 12h1v1H45z"/><path fill="#8e7b77" d="M46 12h1v1H46z"/><path fill="#847480" d="M47 12h1v1H47z"/><path fill="#7b6d83" d="M48 12h1v1H48z"/><path fill="#8e7780" d="M49 12h1v1H49z"/><path fill="#977b76" d="M50 12h1v1H50z"/><path fill="#927785" d="M51 12h1v1H51z"/><path fill="#8c8093" d="M52 12h1v1H52z"/><path fill="#aca8a8" d="M53 12h1v1H53z"/><path fill="#a8acb7" d="M54 12h1v1H54z"/><path fill="#8590a2" d="M55 12h1v1H55z"/><path fill="#4b567f" d="M56 12h1v1H56z"/><path fill="#3c4c6c" d="M57 12h1v1H57z"/><path fill="#324461" d="M58 12h1v1H58z"/><path fill="#283858" d="M59 12h1v1H59z"/><path fill="#72606b" d="M0 13h1v1H0z"/><path fill="#7a6368" d="M1 13h2v1H1z"/><path fill="#82705d" d="M3 13h1v1H3z"/><path fill="#7e705d" d="M4 13h1v1H4z"/><path fill="#5c5559" d="M5 13h1v1H5z"/><path fill="#4b4a55" d="M6 13h1v1H6z"/><path fill="#504d56" d="M7 13h1v1H7z"/><path fill="#4f495b" d="M8 13h1v1H8z"/><path fill="#464258" d="M9 13h1v1H9z"/><path fill="#58515d" d="M10 13h1v1H10z"/><path fill="#58545d" d="M11 13h1v1H11z"/><path fill="#3f3d4c" d="M12 13h1v1H12z"/><path fill="#3e3b4d" d="M13 13h1v1H13z"/><path fill="#444351" d="M14 13h1v1H14z"/><path fill="#646057" d="M15 13h1v1H15z"/><path fill="#6a6359" d="M16 13h1v1H16z"/><path fill="#484457" d="M17 13h1v1H17z"/><path fill="#444256" d="M18 13h1v1H18z"/><path fill="#3e3e53" d="M19 13h1v1H19z"/><path fill="#403f54" d="M20 13h1v1H20z"/><path fill="#484458" d="M21 13h1v1H21z"/><path fill="#675d65" d="M22 13h1v1H22z"/><path fill="#796c5e" d="M23 13h1v1H23z"/><path fill="#5a5165" d="M24 13h1v1H24z"/><path fill="#5a5166" d="M25 13h1v1H25z"/><path fill="#6e6369" d="M26 13h1v1H26z"/><path fill="#75685e" d="M27 13h1v1H27z"/><path fill="#7a675e" d="M28 13h1v1H28z"/><path fill="#5f5862" d="M29 13h1v1H29z"/><path fill="#54505d" d="M30 13h1v1H30z"/><path fill="#6a655a" d="M31 13h1v1H31z"/><path fill="#79705e" d="M32 13h1v1H32z"/><path fill="#7e6b62" d="M33 13h1v1H33z"/><path fill="#86736a" d="M34 13h1v1H34z"/><path fill="#74708e" d="M35 13h1v1H35z"/><path fill="#5d5d87" d="M36 13h1v1H36z"/><path fill="#a0a4af" d="M37 13h1v1H37z"/><path fill="#c4ccc8" d="M38 13h1v1H38z"/><path fill="#99a8b6" d="M39 13h1v1H39z"/><path fill="#475c8c" d="M40 13h1v1H40z"/><path fill="#697495" d="M41 13h1v1H41z"/><path fill="#7c788e" d="M42 13h1v1H42z"/><path fill="#7c748e" d="M43 13h1v1H43z"/><path fill="#786d83" d="M44 13h1v1H44z"/><path fill="#867378" d="M45 13h1v1H45z"/><path fill="#8e7b72" d="M46 13h1v1H46z"/><path fill="#806c80" d="M47 13h2v1H47z"/><path fill="#9a836c" d="M49 13h1v1H49z"/><path fill="#9e8775" d="M50 13h1v1H50z"/><path fill="#93859e" d="M51 13h1v1H51z"/><path fill="#a49cb2" d="M52 13h1v1H52z"/><path fill="#d5d0b0" d="M53 13h1v1H53z"/><path fill="#9da8c5" d="M54 13h1v1H54z"/><path fill="#445489" d="M55 13h1v1H55z"/><path fill="#3b4d75" d="M56 13h1v1H56z"/><path fill="#374966" d="M57 13h1v1H57z"/><path fill="#324560" d="M58 13h1v1H58z"/><path fill="#31445d" d="M59 13h1v1H59z"/><path fill="#675966" d="M0 14h1v1H0z"/><path fill="#615360" d="M1 14h1v1H1z"/><path fill="#645761" d="M2 14h1v1H2z"/><path fill="#7e705d" d="M3 14h2v1H3z"/><path fill="#565057" d="M5 14h1v1H5z"/><path fill="#565551" d="M6 14h1v1H6z"/><path fill="#4f4f53" d="M7 14h1v1H7z"/><path fill="#484754" d="M8 14h1v1H8z"/><path fill="#444353" d="M9 14h1v1H9z"/><path fill="#5b5851" d="M10 14h1v1H10z"/><path fill="#494c51" d="M11 14h1v1H11z"/><path fill="#373a47" d="M12 14h1v1H12z"/><path fill="#353846" d="M13 14h1v1H13z"/><path fill="#3b3e4a" d="M14 14h1v1H14z"/><path fill="#4c4c51" d="M15 14h1v1H15z"/><path fill="#535251" d="M16 14h1v1H16z"/><path fill="#464551" d="M17 14h1v1H17z"/><path fill="#3b3e4b" d="M18 14h1v1H18z"/><path fill="#40434e" d="M19 14h1v1H19z"/><path fill="#3e3e50" d="M20 14h1v1H20z"/><path fill="#424254" d="M21 14h1v1H21z"/><path fill="#535058" d="M22 14h1v1H22z"/><path fill="#565259" d="M23 14h1v1H23z"/><path fill="#685d5f" d="M24 14h1v1H24z"/><path fill="#665b5d" d="M25 14h1v1H25z"/><path fill="#675c5f" d="M26 14h1v1H26z"/><path fill="#645d59" d="M27 14h1v1H27z"/><path fill="#5c5859" d="M28 14h1v1H28z"/><path fill="#4e4d59" d="M29 14h1v1H29z"/><path fill="#484855" d="M30 14h1v1H30z"/><path fill="#5a5a55" d="M31 14h1v1H31z"/><path fill="#595958" d="M32 14h1v1H32z"/><path fill="#595358" d="M33 14h1v1H33z"/><path fill="#56525c" d="M34 14h1v1H34z"/><path fill="#524f65" d="M35 14h1v1H35z"/><path fill="#4d4e6b" d="M36 14h1v1H36z"/><path fill="#8c8ca2" d="M37 14h1v1H37z"/><path fill="#a4a8b3" d="M38 14h1v1H38z"/><path fill="#9da4af" d="M39 14h1v1H39z"/><path fill="#7d8ca2" d="M40 14h1v1H40z"/><path fill="#80848f" d="M41 14h1v1H41z"/><path fill="#897c77" d="M42 14h1v1H42z"/><path fill="#8e7b72" d="M43 14h1v1H43z"/><path fill="#867378" d="M44 14h2v1H44z"/><path fill="#927b6e" d="M46 14h1v1H46z"/><path fill="#8e7b6e" d="M47 14h1v1H47z"/><path fill="#967f6d" d="M48 14h1v1H48z"/><path fill="#9e8770" d="M49 14h1v1H49z"/><path fill="#a28b79" d="M50 14h1v1H50z"/><path fill="#9c91aa" d="M51 14h1v1H51z"/><path fill="#bcb8da" d="M52 14h1v1H52z"/><path fill="#ddd8bd" d="M53 14h1v1H53z"/><path fill="#7e94c0" d="M54 14h1v1H54z"/><path fill="#43538b" d="M55 14h1v1H55z"/><path fill="#3f5176" d="M56 14h1v1H56z"/><path fill="#41526c" d="M57 14h1v1H57z"/><path fill="#3f4f64" d="M58 14h1v1H58z"/><path fill="#3c4d61" d="M59 14h1v1H59z"/><path fill="#685b65" d="M0 15h1v1H0z"/><path fill="#5b4e5c" d="M1 15h1v1H1z"/><path fill="#534e55" d="M2 15h2v1H2z"/><path fill="#524e54" d="M4 15h1v1H4z"/><path fill="#514e51" d="M5 15h1v1H5z"/><path fill="#515150" d="M6 15h1v1H6z"/><path fill="#45454e" d="M7 15h1v1H7z"/><path fill="#3c3f4d" d="M8 15h1v1H8z"/><path fill="#49494e" d="M9 15h1v1H9z"/><path fill="#5d5a44" d="M10 15h1v1H10z"/><path fill="#484b4b" d="M11 15h1v1H11z"/><path fill="#363945" d="M12 15h1v1H12z"/><path fill="#323544" d="M13 15h1v1H13z"/><path fill="#363946" d="M14 15h1v1H14z"/><path fill="#44444d" d="M15 15h1v1H15z"/><path fill="#47484e" d="M16 15h1v1H16z"/><path fill="#40414d" d="M17 15h1v1H17z"/><path fill="#3d3e4c" d="M18 15h1v1H18z"/><path fill="#4b4e50" d="M19 15h1v1H19z"/><path fill="#414453" d="M20 15h1v1H20z"/><path fill="#414153" d="M21 15h1v1H21z"/><path fill="#434254" d="M22 15h1v1H22z"/><path fill="#565057" d="M23 15h1v1H23z"/><path fill="#5c5858" d="M24 15h1v1H24z"/><path fill="#635c55" d="M25 15h2v1H25z"/><path fill="#595855" d="M27 15h1v1H27z"/><path fill="#515156" d="M28 15h1v1H28z"/><path fill="#464659" d="M29 15h1v1H29z"/><path fill="#404353" d="M30 15h1v1H30z"/><path fill="#4b4f50" d="M31 15h1v1H31z"/><path fill="#4c4f50" d="M32 15h1v1H32z"/><path fill="#404350" d="M33 15h1v1H33z"/><path fill="#3f4251" d="M34 15h1v1H34z"/><path fill="#424257" d="M35 15h1v1H35z"/><path fill="#45455f" d="M36 15h1v1H36z"/><path fill="#505272" d="M37 15h1v1H37z"/><path fill="#696c91" d="M38 15h1v1H38z"/><path fill="#6c6c91" d="M39 15h1v1H39z"/><path fill="#6c707f" d="M40 15h1v1H40z"/><path fill="#746c70" d="M41 15h1v1H41z"/><path fill="#7d706b" d="M42 15h1v1H42z"/><path fill="#86736a" d="M43 15h1v1H43z"/><path fill="#826f66" d="M44 15h1v1H44z"/><path fill="#7d7066" d="M45 15h1v1H45z"/><path fill="#867865" d="M46 15h1v1H46z"/><path fill="#85786a" d="M47 15h1v1H47z"/><path fill="#867865" d="M48 15h1v1H48z"/><path fill="#857873" d="M49 15h1v1H49z"/><path fill="#967f68" d="M50 15h1v1H50z"/><path fill="#a89caf" d="M51 15h1v1H51z"/><path fill="#c8c4de" d="M52 15h1v1H52z"/><path fill="#d8d8d8" d="M53 15h1v1H53z"/><path fill="#99a8d8" d="M54 15h1v1H54z"/><path fill="#8190c4" d="M55 15h1v1H55z"/><path fill="#6d7cb3" d="M56 15h1v1H56z"/><path fill="#8998a6" d="M57 15h1v1H57z"/><path fill="#5d708d" d="M58 15h1v1H58z"/><path fill="#3e4e6c" d="M59 15h1v1H59z"/><path fill="#625661" d="M0 16h1v1H0z"/><path fill="#584f5d" d="M1 16h1v1H1z"/><path fill="#464256" d="M2 16h1v1H2z"/><path fill="#4b4855" d="M3 16h1v1H3z"/><path fill="#494952" d="M4 16h1v1H4z"/><path fill="#4b4b4f" d="M5 16h1v1H5z"/><path fill="#42444d" d="M6 16h1v1H6z"/><path fill="#3b3e4c" d="M7 16h2v1H7z"/><path fill="#4b4b4e" d="M9 16h1v1H9z"/><path fill="#505046" d="M10 16h1v1H10z"/><path fill="#3b3e46" d="M11 16h1v1H11z"/><path fill="#353946" d="M12 16h1v1H12z"/><path fill="#323645" d="M13 16h1v1H13z"/><path fill="#3a3a49" d="M14 16h1v1H14z"/><path fill="#44444d" d="M15 16h1v1H15z"/><path fill="#49494c" d="M16 16h1v1H16z"/><path fill="#373a47" d="M17 16h1v1H17z"/><path fill="#353848" d="M18 16h1v1H18z"/><path fill="#434651" d="M19 16h1v1H19z"/><path fill="#444456" d="M20 16h1v1H20z"/><path fill="#444156" d="M21 16h1v1H21z"/><path fill="#434256" d="M22 16h1v1H22z"/><path fill="#4f4c55" d="M23 16h1v1H23z"/><path fill="#565651" d="M24 16h1v1H24z"/><path fill="#5a5651" d="M25 16h1v1H25z"/><path fill="#5f5951" d="M26 16h1v1H26z"/><path fill="#505053" d="M27 16h1v1H27z"/><path fill="#4a4c52" d="M28 16h1v1H28z"/><path fill="#4d5051" d="M29 16h1v1H29z"/><path fill="#3a3f52" d="M30 16h1v1H30z"/><path fill="#464a4f" d="M31 16h1v1H31z"/><path fill="#41474e" d="M32 16h1v1H32z"/><path fill="#3a3e4c" d="M33 16h1v1H33z"/><path fill="#3d404d" d="M34 16h1v1H34z"/><path fill="#40434c" d="M35 16h1v1H35z"/><path fill="#41414f" d="M36 16h1v1H36z"/><path fill="#454657" d="M37 16h1v1H37z"/><path fill="#4a4a5e" d="M38 16h1v1H38z"/><path fill="#4e4b61" d="M39 16h1v1H39z"/><path fill="#4c4b59" d="M40 16h1v1H40z"/><path fill="#524f5b" d="M41 16h1v1H41z"/><path fill="#534f5b" d="M42 16h1v1H42z"/><path fill="#5a505e" d="M43 16h1v1H43z"/><path fill="#6a5b5d" d="M44 16h1v1H44z"/><path fill="#675c5d" d="M45 16h1v1H45z"/><path fill="#6b635e" d="M46 16h1v1H46z"/><path fill="#6b6060" d="M47 16h1v1H47z"/><path fill="#6b6065" d="M48 16h1v1H48z"/><path fill="#685f6b" d="M49 16h1v1H49z"/><path fill="#786c7c" d="M50 16h1v1H50z"/><path fill="#a098a7" d="M51 16h1v1H51z"/><path fill="#c8c4e2" d="M52 16h1v1H52z"/><path fill="#c8c8e6" d="M53 16h1v1H53z"/><path fill="#cdd4f9" d="M54 16h1v1H54z"/><path fill="#d1d8f9" d="M55 16h1v1H55z"/><path fill="#c1ccf5" d="M56 16h1v1H56z"/><path fill="#b5c0cf" d="M57 16h1v1H57z"/><path fill="#7d8ca6" d="M58 16h1v1H58z"/><path fill="#3e4d77" d="M59 16h1v1H59z"/><path fill="#484455" d="M0 17h1v1H0z"/><path fill="#423e54" d="M1 17h1v1H1z"/><path fill="#3c3b53" d="M2 17h1v1H2z"/><path fill="#494754" d="M3 17h1v1H3z"/><path fill="#484851" d="M4 17h1v1H4z"/><path fill="#44444b" d="M5 17h1v1H5z"/><path fill="#3e3e4c" d="M6 17h1v1H6z"/><path fill="#40404d" d="M7 17h1v1H7z"/><path fill="#42424b" d="M8 17h1v1H8z"/><path fill="#4c4c4c" d="M9 17h1v1H9z"/><path fill="#40404c" d="M10 17h1v1H10z"/><path fill="#383b4b" d="M11 17h1v1H11z"/><path fill="#34394b" d="M12 17h1v1H12z"/><path fill="#3c3d4a" d="M13 17h1v1H13z"/><path fill="#44444d" d="M14 17h1v1H14z"/><path fill="#4d4b4f" d="M15 17h1v1H15z"/><path fill="#45444e" d="M16 17h1v1H16z"/><path fill="#3b3b4b" d="M17 17h1v1H17z"/><path fill="#3a3a4a" d="M18 17h1v1H18z"/><path fill="#44434f" d="M19 17h1v1H19z"/><path fill="#423f56" d="M20 17h1v1H20z"/><path fill="#454257" d="M21 17h1v1H21z"/><path fill="#494955" d="M22 17h1v1H22z"/><path fill="#4e4e54" d="M23 17h1v1H23z"/><path fill="#464854" d="M24 17h1v1H24z"/><path fill="#404353" d="M25 17h2v1H25z"/><path fill="#434653" d="M27 17h1v1H27z"/><path fill="#494c50" d="M28 17h1v1H28z"/><path fill="#4a4e50" d="M29 17h1v1H29z"/><path fill="#3f444d" d="M30 17h1v1H30z"/><path fill="#373d4c" d="M31 17h1v1H31z"/><path fill="#383d4b" d="M32 17h1v1H32z"/><path fill="#3b404a" d="M33 17h1v1H33z"/><path fill="#3e444d" d="M34 17h1v1H34z"/><path fill="#3e444a" d="M35 17h1v1H35z"/><path fill="#3d414a" d="M36 17h1v1H36z"/><path fill="#3d414d" d="M37 17h1v1H37z"/><path fill="#3e414e" d="M38 17h1v1H38z"/><path fill="#3d3e4e" d="M39 17h1v1H39z"/><path fill="#414153" d="M40 17h1v1H40z"/><path fill="#444256" d="M41 17h1v1H41z"/><path fill="#454256" d="M42 17h1v1H42z"/><path fill="#474359" d="M43 17h1v1H43z"/><path fill="#4d495a" d="M44 17h1v1H44z"/><path fill="#4e4a5a" d="M45 17h1v1H45z"/><path fill="#4e4b59" d="M46 17h1v1H46z"/><path fill="#514e5a" d="M47 17h1v1H47z"/><path fill="#504c5f" d="M48 17h1v1H48z"/><path fill="#565269" d="M49 17h1v1H49z"/><path fill="#6d666e" d="M50 17h1v1H50z"/><path fill="#998b90" d="M51 17h1v1H51z"/><path fill="#8c88b1" d="M52 17h1v1H52z"/><path fill="#9895c4" d="M53 17h1v1H53z"/><path fill="#dce0f2" d="M54 17h1v1H54z"/><path fill="#ecece3" d="M55 17h1v1H55z"/><path fill="#e4e4eb" d="M56 17h1v1H56z"/><path fill="#c4c8c4" d="M57 17h1v1H57z"/><path fill="#65789d" d="M58 17h1v1H58z"/><path fill="#36456f" d="M59 17h1v1H59z"/><path fill="#393952" d="M0 18h1v1H0z"/><path fill="#373751" d="M1 18h1v1H1z"/><path fill="#3d3d50" d="M2 18h1v1H2z"/><path fill="#414150" d="M3 18h1v1H3z"/><path fill="#424250" d="M4 18h1v1H4z"/><path fill="#44444d" d="M5 18h1v1H5z"/><path fill="#3b3b4a" d="M6 18h1v1H6z"/><path fill="#41414e" d="M7 18h1v1H7z"/><path fill="#524f55" d="M8 18h1v1H8z"/><path fill="#595650" d="M9 18h1v1H9z"/><path fill="#58544f" d="M10 18h1v1H10z"/><path fill="#3c3f4f" d="M11 18h1v1H11z"/><path fill="#383e4f" d="M12 18h1v1H12z"/><path fill="#414450" d="M13 18h1v1H13z"/><path fill="#4e4e52" d="M14 18h1v1H14z"/><path fill="#4e4b52" d="M15 18h1v1H15z"/><path fill="#48474e" d="M16 18h1v1H16z"/><path fill="#464353" d="M17 18h1v1H17z"/><path fill="#474454" d="M18 18h1v1H18z"/><path fill="#484755" d="M19 18h1v1H19z"/><path fill="#4f495a" d="M20 18h1v1H20z"/><path fill="#565257" d="M21 18h1v1H21z"/><path fill="#545156" d="M22 18h1v1H22z"/><path fill="#474952" d="M23 18h1v1H23z"/><path fill="#3f4253" d="M24 18h1v1H24z"/><path fill="#383b52" d="M25 18h1v1H25z"/><path fill="#393e52" d="M26 18h1v1H26z"/><path fill="#474b50" d="M27 18h1v1H27z"/><path fill="#4d5153" d="M28 18h1v1H28z"/><path fill="#42474e" d="M29 18h1v1H29z"/><path fill="#3a404a" d="M30 18h1v1H30z"/><path fill="#363c49" d="M31 18h1v1H31z"/><path fill="#373d49" d="M32 18h1v1H32z"/><path fill="#3e444a" d="M33 18h1v1H33z"/><path fill="#474a4b" d="M34 18h1v1H34z"/><path fill="#3f444a" d="M35 18h1v1H35z"/><path fill="#3b4349" d="M36 18h1v1H36z"/><path fill="#3a3f49" d="M37 18h2v1H37z"/><path fill="#393c49" d="M39 18h1v1H39z"/><path fill="#373c4c" d="M40 18h1v1H40z"/><path fill="#3b3e4d" d="M41 18h1v1H41z"/><path fill="#444752" d="M42 18h1v1H42z"/><path fill="#454852" d="M43 18h1v1H43z"/><path fill="#424254" d="M44 18h2v1H44z"/><path fill="#454855" d="M46 18h1v1H46z"/><path fill="#464856" d="M47 18h1v1H47z"/><path fill="#48485c" d="M48 18h1v1H48z"/><path fill="#696367" d="M49 18h1v1H49z"/><path fill="#8e8060" d="M50 18h1v1H50z"/><path fill="#8e7c65" d="M51 18h1v1H51z"/><path fill="#747086" d="M52 18h1v1H52z"/><path fill="#8c88ad" d="M53 18h1v1H53z"/><path fill="#d0d0df" d="M54 18h1v1H54z"/><path fill="#e4e4e0" d="M55 18h1v1H55z"/><path fill="#d4d4f2" d="M56 18h1v1H56z"/><path fill="#8d9cb9" d="M57 18h1v1H57z"/><path fill="#415075" d="M58 18h1v1H58z"/><path fill="#374764" d="M59 18h1v1H59z"/><path fill="#393951" d="M0 19h1v1H0z"/><path fill="#3a3a51" d="M1 19h1v1H1z"/><path fill="#43404e" d="M2 19h1v1H2z"/><path fill="#403f4f" d="M3 19h1v1H3z"/><path fill="#4e4b4d" d="M4 19h1v1H4z"/><path fill="#49464e" d="M5 19h1v1H5z"/><path fill="#403f4f" d="M6 19h1v1H6z"/><path fill="#484554" d="M7 19h1v1H7z"/><path fill="#524f53" d="M8 19h1v1H8z"/><path fill="#615b48" d="M9 19h1v1H9z"/><path fill="#55524f" d="M10 19h1v1H10z"/><path fill="#484b4f" d="M11 19h1v1H11z"/><path fill="#474a4f" d="M12 19h1v1H12z"/><path fill="#444751" d="M13 19h1v1H13z"/><path fill="#474851" d="M14 19h1v1H14z"/><path fill="#4a4a4f" d="M15 19h1v1H15z"/><path fill="#45424c" d="M16 19h1v1H16z"/><path fill="#484253" d="M17 19h1v1H17z"/><path fill="#474051" d="M18 19h1v1H18z"/><path fill="#545057" d="M19 19h1v1H19z"/><path fill="#564f58" d="M20 19h1v1H20z"/><path fill="#655d52" d="M21 19h1v1H21z"/><path fill="#635d51" d="M22 19h1v1H22z"/><path fill="#555254" d="M23 19h1v1H23z"/><path fill="#424553" d="M24 19h1v1H24z"/><path fill="#414453" d="M25 19h1v1H25z"/><path fill="#494a4d" d="M26 19h1v1H26z"/><path fill="#494a4f" d="M27 19h1v1H27z"/><path fill="#3f4450" d="M28 19h1v1H28z"/><path fill="#3b414d" d="M29 19h1v1H29z"/><path fill="#373d49" d="M30 19h2v1H30z"/><path fill="#383e49" d="M32 19h1v1H32z"/><path fill="#494d4c" d="M33 19h1v1H33z"/><path fill="#4c4b48" d="M34 19h1v1H34z"/><path fill="#434748" d="M35 19h1v1H35z"/><path fill="#373d48" d="M36 19h1v1H36z"/><path fill="#333945" d="M37 19h1v1H37z"/><path fill="#363c48" d="M38 19h1v1H38z"/><path fill="#353946" d="M39 19h1v1H39z"/><path fill="#373c49" d="M40 19h1v1H40z"/><path fill="#3a3e4c" d="M41 19h1v1H41z"/><path fill="#4c4f50" d="M42 19h1v1H42z"/><path fill="#494c50" d="M43 19h1v1H43z"/><path fill="#3e3e4f" d="M44 19h1v1H44z"/><path fill="#444751" d="M45 19h1v1H45z"/><path fill="#454854" d="M46 19h1v1H46z"/><path fill="#464656" d="M47 19h1v1H47z"/><path fill="#4d4c5e" d="M48 19h1v1H48z"/><path fill="#6b6761" d="M49 19h1v1H49z"/><path fill="#8a7c60" d="M50 19h1v1H50z"/><path fill="#85786a" d="M51 19h1v1H51z"/><path fill="#787083" d="M52 19h1v1H52z"/><path fill="#8884a9" d="M53 19h1v1H53z"/><path fill="#d8d8dc" d="M54 19h1v1H54z"/><path fill="#fdf9c6" d="M55 19h1v1H55z"/><path fill="#a8a5e0" d="M56 19h1v1H56z"/><path fill="#4c5492" d="M57 19h1v1H57z"/><path fill="#3e4b67" d="M58 19h1v1H58z"/><path fill="#334158" d="M59 19h1v1H59z"/><path fill="#3f424e" d="M0 20h1v1H0z"/><path fill="#41434e" d="M1 20h1v1H1z"/><path fill="#4c4952" d="M2 20h1v1H2z"/><path fill="#4a4953" d="M3 20h1v1H3z"/><path fill="#615a4a" d="M4 20h1v1H4z"/><path fill="#5b5550" d="M5 20h1v1H5z"/><path fill="#4d4954" d="M6 20h1v1H6z"/><path fill="#5a5357" d="M7 20h1v1H7z"/><path fill="#424150" d="M8 20h1v1H8z"/><path fill="#41414f" d="M9 20h1v1H9z"/><path fill="#47474b" d="M10 20h1v1H10z"/><path fill="#494c4f" d="M11 20h1v1H11z"/><path fill="#484c4f" d="M12 20h1v1H12z"/><path fill="#444851" d="M13 20h1v1H13z"/><path fill="#393c4c" d="M14 20h1v1H14z"/><path fill="#393b4c" d="M15 20h1v1H15z"/><path fill="#474451" d="M16 20h1v1H16z"/><path fill="#4a4451" d="M17 20h1v1H17z"/><path fill="#4d4955" d="M18 20h1v1H18z"/><path fill="#695f54" d="M19 20h1v1H19z"/><path fill="#6c6451" d="M20 20h1v1H20z"/><path fill="#615951" d="M21 20h1v1H21z"/><path fill="#5f5851" d="M22 20h1v1H22z"/><path fill="#4d4d50" d="M23 20h1v1H23z"/><path fill="#3d4050" d="M24 20h1v1H24z"/><path fill="#50504d" d="M25 20h1v1H25z"/><path fill="#484b4f" d="M26 20h1v1H26z"/><path fill="#3a3f4c" d="M27 20h1v1H27z"/><path fill="#383d4c" d="M28 20h1v1H28z"/><path fill="#373d49" d="M29 20h1v1H29z"/><path fill="#393f49" d="M30 20h1v1H30z"/><path fill="#3a3f49" d="M31 20h1v1H31z"/><path fill="#3e444a" d="M32 20h1v1H32z"/><path fill="#41474b" d="M33 20h1v1H33z"/><path fill="#40454a" d="M34 20h1v1H34z"/><path fill="#3b4149" d="M35 20h1v1H35z"/><path fill="#373c46" d="M36 20h1v1H36z"/><path fill="#353945" d="M37 20h1v1H37z"/><path fill="#353845" d="M38 20h1v1H38z"/><path fill="#353945" d="M39 20h1v1H39z"/><path fill="#373c49" d="M40 20h1v1H40z"/><path fill="#41464d" d="M41 20h1v1H41z"/><path fill="#3e424d" d="M42 20h1v1H42z"/><path fill="#3b3f4f" d="M43 20h1v1H43z"/><path fill="#3b3e4f" d="M44 20h1v1H44z"/><path fill="#45484f" d="M45 20h1v1H45z"/><path fill="#535451" d="M46 20h1v1H46z"/><path fill="#4c4a59" d="M47 20h1v1H47z"/><path fill="#5b5863" d="M48 20h1v1H48z"/><path fill="#79705e" d="M49 20h1v1H49z"/><path fill="#96845a" d="M50 20h1v1H50z"/><path fill="#85786a" d="M51 20h1v1H51z"/><path fill="#786c7c" d="M52 20h1v1H52z"/><path fill="#74719d" d="M53 20h1v1H53z"/><path fill="#c0c0d3" d="M54 20h1v1H54z"/><path fill="#fdfdc1" d="M55 20h1v1H55z"/><path fill="#bcb5d6" d="M56 20h1v1H56z"/><path fill="#4a518f" d="M57 20h1v1H57z"/><path fill="#3f4b66" d="M58 20h1v1H58z"/><path fill="#2d3a53" d="M59 20h1v1H59z"/></svg>
<svg class="g" style="left:15px;top:53px" width="1067" height="374" viewBox="0 0 1067 374" fill="#000"><circle cx="9.5" cy="131.5" r="1.5"/><circle cx="27.5" cy="126.5" r="1.5"/><circle cx="44.5" cy="125.5" r="1.5"/><circle cx="62.5" cy="133.5" r="1.5"/><circle cx="80.5" cy="133.5" r="1.5"/><circle cx="98.5" cy="138.5" r="1.5"/><circle cx="115.5" cy="151.5" r="1.5"/><circle cx="116.5" cy="151.5" r="1.5"/><circle cx="133.5" cy="157.5" r="1.5"/><circle cx="151.5" cy="162.5" r="1.5"/><circle cx="169.5" cy="164.5" r="1.5"/><circle cx="187.5" cy="162.5" r="1.5"/><circle cx="198.5" cy="151.5" r="1.5"/><circle cx="204.5" cy="142.5" r="1.5"/><circle cx="215.5" cy="133.5" r="1.5"/><circle cx="222.5" cy="128.5" r="1.5"/><circle cx="226.5" cy="133.5" r="1.5"/><circle cx="239.2" cy="151.2" r="1.5"/><circle cx="240.4" cy="152.4" r="1.5"/><circle cx="258.5" cy="161.5" r="1.5"/><circle cx="275.5" cy="161.5" r="1.5"/><circle cx="293.5" cy="160.5" r="1.5"/><circle cx="311.5" cy="155.5" r="1.5"/><circle cx="329.5" cy="154.5" r="1.5"/><circle cx="347.5" cy="157.5" r="1.5"/><circle cx="364.5" cy="162.5" r="1.5"/><circle cx="382.5" cy="154.5" r="1.5"/><circle cx="390.5" cy="151.5" r="1.5"/><circle cx="400.5" cy="148.5" r="1.5"/><circle cx="406.5" cy="151.5" r="1.5"/><circle cx="418.5" cy="161.5" r="1.5"/><circle cx="425.5" cy="169.5" r="1.5"/><circle cx="435.5" cy="175.5" r="1.5"/><circle cx="449.5" cy="169.5" r="1.5"/><circle cx="453.5" cy="166.5" r="1.5"/><circle cx="471.5" cy="161.5" r="1.5"/><circle cx="489.5" cy="164.5" r="1.5"/><circle cx="507.5" cy="166.5" r="1.5"/><circle cx="511.5" cy="169.5" r="1.5"/><circle cx="524.5" cy="177.5" r="1.5"/><circle cx="537.5" cy="187.5" r="1.5"/><circle cx="542.5" cy="191.5" r="1.5"/><circle cx="560.5" cy="193.5" r="1.5"/><circle cx="578.5" cy="197.5" r="1.5"/><circle cx="595.5" cy="194.5" r="1.5"/><circle cx="613.5" cy="195.5" r="1.5"/><circle cx="629.5" cy="204.5" r="1.5"/><circle cx="631.5" cy="207.5" r="1.5"/><circle cx="639.5" cy="222.5" r="1.5"/><circle cx="649.5" cy="234.5" r="1.5"/><circle cx="654.5" cy="240.5" r="1.5"/><circle cx="666.5" cy="258.5" r="1.5"/><circle cx="684.5" cy="268.5" r="1.5"/><circle cx="702.5" cy="269.5" r="1.5"/><circle cx="880.5" cy="157.5" r="1.5"/><circle cx="898.5" cy="152.5" r="1.5"/><circle cx="915.5" cy="159.5" r="1.5"/><circle cx="933.5" cy="155.5" r="1.5"/><circle cx="940.5" cy="169.5" r="1.5"/><circle cx="860.5" cy="169.5" r="1.5"/><circle cx="862.5" cy="168.5" r="1.5"/><circle cx="844.5" cy="182.5" r="1.5"/><circle cx="833.5" cy="187.5" r="1.5"/><circle cx="947.5" cy="187.5" r="1.5"/><circle cx="720.5" cy="274.5" r="1.5"/><circle cx="735.5" cy="258.5" r="1.5"/><circle cx="738.5" cy="248.5" r="1.5"/><circle cx="741.5" cy="240.5" r="1.5"/><circle cx="755.5" cy="222.5" r="1.5"/><circle cx="773.5" cy="216.5" r="1.5"/><circle cx="785.5" cy="204.5" r="1.5"/><circle cx="791.5" cy="199.5" r="1.5"/><circle cx="809.5" cy="191.5" r="1.5"/><circle cx="826.5" cy="189.5" r="1.5"/><circle cx="949.5" cy="204.5" r="1.5"/><circle cx="942.5" cy="222.5" r="1.5"/><circle cx="933.5" cy="240.5" r="1.5"/><circle cx="925.5" cy="258.5" r="1.5"/><circle cx="917.5" cy="275.5" r="1.5"/><circle cx="915.5" cy="280.5" r="1.5"/><circle cx="910.5" cy="293.5" r="1.5"/><circle cx="915.5" cy="301.5" r="1.5"/><circle cx="933.5" cy="309.5" r="1.5"/><circle cx="939.5" cy="311.5" r="1.5"/><circle cx="951.5" cy="319.5" r="1.5"/><circle cx="957.5" cy="329.5" r="1.5"/><circle cx="958.5" cy="347.5" r="1.5"/><circle cx="962.5" cy="364.5" r="1.5"/></svg>
<div class="rim" style="top:53px"></div>
<div class="t" style="top:456.3px"><span style="transform:scaleX(1.205)">2000-09-08-09-50-17</span></div>
<svg class="g" style="left:15px;top:501px" width="1067" height="373.4" viewBox="0 0 60 21" preserveAspectRatio="none" shape-rendering="crispEdges"><path fill="#53279a" d="M0 0h8v1H0z"/><path fill="#a8699c" d="M8 0h3v1H8z"/><path fill="#53279a" d="M11 0h7v1H11z"/><path fill="#a8699c" d="M18 0h4v1H18z"/><path fill="#53279a" d="M22 0h17v1H22z"/><path fill="#a8699c" d="M39 0h3v1H39z"/><path fill="#53279a" d="M42 0h18v1H42z"/><path fill="#53279a" d="M0 1h8v1H0z"/><path fill="#a8699c" d="M8 1h3v1H8z"/><path fill="#53279a" d="M11 1h6v1H11z"/><path fill="#a8699c" d="M17 1h4v1H17z"/><path fill="#53279a" d="M21 1h18v1H21z"/><path fill="#a8699c" d="M39 1h3v1H39z"/><path fill="#53279a" d="M42 1h18v1H42z"/><path fill="#53279a" d="M0 2h8v1H0z"/><path fill="#a8699c" d="M8 2h3v1H8z"/><path fill="#53279a" d="M11 2h2v1H11z"/><path fill="#a8699c" d="M13 2h1v1H13z"/><path fill="#53279a" d="M14 2h3v1H14z"/><path fill="#a8699c" d="M17 2h3v1H17z"/><path fill="#53279a" d="M20 2h40v1H20z"/><path fill="#53279a" d="M0 3h9v1H0z"/><path fill="#a8699c" d="M9 3h1v1H9z"/><path fill="#53279a" d="M10 3h2v1H10z"/><path fill="#a8699c" d="M12 3h2v1H12z"/><path fill="#53279a" d="M14 3h3v1H14z"/><path fill="#a8699c" d="M17 3h3v1H17z"/><path fill="#53279a" d="M20 3h40v1H20z"/><path fill="#a8699c" d="M0 4h3v1H0z"/><path fill="#53279a" d="M3 4h1v1H3z"/><path fill="#a8699c" d="M4 4h1v1H4z"/><path fill="#53279a" d="M5 4h1v1H5z"/><path fill="#a8699c" d="M6 4h1v1H6z"/><path fill="#53279a" d="M7 4h4v1H7z"/><path fill="#a8699c" d="M11 4h4v1H11z"/><path fill="#53279a" d="M15 4h2v1H15z"/><path fill="#a8699c" d="M17 4h4v1H17z"/><path fill="#53279a" d="M21 4h12v1H21z"/><path fill="#a8699c" d="M33 4h1v1H33z"/><path fill="#53279a" d="M34 4h26v1H34z"/><path fill="#a8699c" d="M0 5h23v1H0z"/><path fill="#53279a" d="M23 5h1v1H23z"/><path fill="#a8699c" d="M24 5h3v1H24z"/><path fill="#53279a" d="M27 5h5v1H27z"/><path fill="#a8699c" d="M32 5h2v1H32z"/><path fill="#53279a" d="M34 5h16v1H34z"/><path fill="#a8699c" d="M50 5h5v1H50z"/><path fill="#53279a" d="M55 5h5v1H55z"/><path fill="#a8699c" d="M0 6h1v1H0z"/><path fill="#53279a" d="M1 6h2v1H1z"/><path fill="#a8699c" d="M3 6h9v1H3z"/><path fill="#a0508f" d="M12 6h1v1H12z"/><path fill="#a8699c" d="M13 6h16v1H13z"/><path fill="#53279a" d="M29 6h3v1H29z"/><path fill="#a8699c" d="M32 6h2v1H32z"/><path fill="#53279a" d="M34 6h16v1H34z"/><path fill="#a8699c" d="M50 6h6v1H50z"/><path fill="#53279a" d="M56 6h4v1H56z"/><path fill="#53279a" d="M0 7h5v1H0z"/><path fill="#a8699c" d="M5 7h6v1H5z"/><path fill="#a0508f" d="M11 7h2v1H11z"/><path fill="#a8699c" d="M13 7h17v1H13z"/><path fill="#53279a" d="M30 7h2v1H30z"/><path fill="#a8699c" d="M32 7h2v1H32z"/><path fill="#53279a" d="M34 7h13v1H34z"/><path fill="#a8699c" d="M47 7h5v1H47z"/><path fill="#53279a" d="M52 7h1v1H52z"/><path fill="#a8699c" d="M53 7h3v1H53z"/><path fill="#53279a" d="M56 7h4v1H56z"/><path fill="#85205f" d="M0 8h2v1H0z"/><path fill="#9a3a6a" d="M2 8h2v1H2z"/><path fill="#902c64" d="M4 8h1v1H4z"/><path fill="#882468" d="M5 8h1v1H5z"/><path fill="#a04c8c" d="M6 8h1v1H6z"/><path fill="#a8699c" d="M7 8h4v1H7z"/><path fill="#963a7c" d="M11 8h2v1H11z"/><path fill="#a8699c" d="M13 8h9v1H13z"/><path fill="#a0508f" d="M22 8h1v1H22z"/><path fill="#a8699c" d="M23 8h7v1H23z"/><path fill="#53279a" d="M30 8h1v1H30z"/><path fill="#a8699c" d="M31 8h6v1H31z"/><path fill="#53279a" d="M37 8h9v1H37z"/><path fill="#a8699c" d="M46 8h3v1H46z"/><path fill="#53279a" d="M49 8h4v1H49z"/><path fill="#a8699c" d="M53 8h4v1H53z"/><path fill="#53279a" d="M57 8h3v1H57z"/><path fill="#7c1f5c" d="M0 9h1v1H0z"/><path fill="#c8414a" d="M1 9h3v1H1z"/><path fill="#8c2c68" d="M4 9h1v1H4z"/><path fill="#7c2060" d="M5 9h3v1H5z"/><path fill="#8c3070" d="M8 9h1v1H8z"/><path fill="#943874" d="M9 9h2v1H9z"/><path fill="#8c3070" d="M11 9h1v1H11z"/><path fill="#c8414a" d="M12 9h2v1H12z"/><path fill="#983c78" d="M14 9h6v1H14z"/><path fill="#963c80" d="M20 9h1v1H20z"/><path fill="#8e3074" d="M21 9h2v1H21z"/><path fill="#963a7c" d="M23 9h1v1H23z"/><path fill="#a8699c" d="M24 9h1v1H24z"/><path fill="#943878" d="M25 9h1v1H25z"/><path fill="#8e3272" d="M26 9h1v1H26z"/><path fill="#53279a" d="M27 9h2v1H27z"/><path fill="#a8699c" d="M29 9h9v1H29z"/><path fill="#53279a" d="M38 9h5v1H38z"/><path fill="#a8699c" d="M43 9h1v1H43z"/><path fill="#53279a" d="M44 9h2v1H44z"/><path fill="#a8699c" d="M46 9h2v1H46z"/><path fill="#53279a" d="M48 9h2v1H48z"/><path fill="#8e2e62" d="M50 9h3v1H50z"/><path fill="#53279a" d="M53 9h1v1H53z"/><path fill="#a8699c" d="M54 9h3v1H54z"/><path fill="#53279a" d="M57 9h3v1H57z"/><path fill="#7a2056" d="M0 10h1v1H0z"/><path fill="#c8414a" d="M1 10h3v1H1z"/><path fill="#80245a" d="M4 10h1v1H4z"/><path fill="#7a2056" d="M5 10h1v1H5z"/><path fill="#741c54" d="M6 10h2v1H6z"/><path fill="#882a5e" d="M8 10h1v1H8z"/><path fill="#7a2056" d="M9 10h2v1H9z"/><path fill="#c8414a" d="M11 10h2v1H11z"/><path fill="#80245a" d="M13 10h3v1H13z"/><path fill="#882a5e" d="M16 10h1v1H16z"/><path fill="#80245a" d="M17 10h2v1H17z"/><path fill="#7a2056" d="M19 10h1v1H19z"/><path fill="#842658" d="M20 10h1v1H20z"/><path fill="#86285a" d="M21 10h2v1H21z"/><path fill="#84265c" d="M23 10h1v1H23z"/><path fill="#88285e" d="M24 10h1v1H24z"/><path fill="#86285e" d="M25 10h2v1H25z"/><path fill="#8a2c5c" d="M27 10h2v1H27z"/><path fill="#53279a" d="M29 10h3v1H29z"/><path fill="#a8699c" d="M32 10h1v1H32z"/><path fill="#53279a" d="M33 10h1v1H33z"/><path fill="#a8699c" d="M34 10h4v1H34z"/><path fill="#53279a" d="M38 10h5v1H38z"/><path fill="#a8699c" d="M43 10h1v1H43z"/><path fill="#53279a" d="M44 10h4v1H44z"/><path fill="#8c2c60" d="M48 10h1v1H48z"/><path fill="#8a2c60" d="M49 10h1v1H49z"/><path fill="#903062" d="M50 10h2v1H50z"/><path fill="#8e2e60" d="M52 10h1v1H52z"/><path fill="#53279a" d="M53 10h1v1H53z"/><path fill="#a8699c" d="M54 10h3v1H54z"/><path fill="#53279a" d="M57 10h3v1H57z"/><path fill="#7a2056" d="M0 11h1v1H0z"/><path fill="#c8414a" d="M1 11h2v1H1z"/><path fill="#7a2056" d="M3 11h1v1H3z"/><path fill="#80245a" d="M4 11h1v1H4z"/><path fill="#741c54" d="M5 11h2v1H5z"/><path fill="#7a2056" d="M7 11h1v1H7z"/><path fill="#882a5e" d="M8 11h1v1H8z"/><path fill="#7a2056" d="M9 11h2v1H9z"/><path fill="#c8414a" d="M11 11h1v1H11z"/><path fill="#7a2056" d="M12 11h3v1H12z"/><path fill="#80245a" d="M15 11h3v1H15z"/><path fill="#7a2056" d="M18 11h1v1H18z"/><path fill="#741c54" d="M19 11h1v1H19z"/><path fill="#82255a" d="M20 11h2v1H20z"/><path fill="#80245a" d="M22 11h1v1H22z"/><path fill="#82265c" d="M23 11h1v1H23z"/><path fill="#84265c" d="M24 11h3v1H24z"/><path fill="#86285c" d="M27 11h2v1H27z"/><path fill="#82286a" d="M29 11h3v1H29z"/><path fill="#53279a" d="M32 11h1v1H32z"/><path fill="#86285c" d="M33 11h2v1H33z"/><path fill="#53279a" d="M35 11h1v1H35z"/><path fill="#a8699c" d="M36 11h2v1H36z"/><path fill="#53279a" d="M38 11h4v1H38z"/><path fill="#a8699c" d="M42 11h2v1H42z"/><path fill="#53279a" d="M44 11h2v1H44z"/><path fill="#8a2a60" d="M46 11h1v1H46z"/><path fill="#8c2c60" d="M47 11h1v1H47z"/><path fill="#8a2c5e" d="M48 11h1v1H48z"/><path fill="#8c2e60" d="M49 11h1v1H49z"/><path fill="#923262" d="M50 11h1v1H50z"/><path fill="#903062" d="M51 11h1v1H51z"/><path fill="#8c2e60" d="M52 11h1v1H52z"/><path fill="#53279a" d="M53 11h1v1H53z"/><path fill="#a8699c" d="M54 11h3v1H54z"/><path fill="#53279a" d="M57 11h3v1H57z"/><path fill="#80245a" d="M0 12h1v1H0z"/><path fill="#c8414a" d="M1 12h1v1H1z"/><path fill="#7a2056" d="M2 12h1v1H2z"/><path fill="#80245a" d="M3 12h2v1H3z"/><path fill="#741c54" d="M5 12h2v1H5z"/><path fill="#7a2056" d="M7 12h2v1H7z"/><path fill="#741c54" d="M9 12h1v1H9z"/><path fill="#7a2056" d="M10 12h1v1H10z"/><path fill="#80245a" d="M11 12h1v1H11z"/><path fill="#7a2056" d="M12 12h1v1H12z"/><path fill="#741c54" d="M13 12h2v1H13z"/><path fill="#7a2056" d="M15 12h3v1H15z"/><path fill="#741c54" d="M18 12h2v1H18z"/><path fill="#761c54" d="M20 12h1v1H20z"/><path fill="#781e56" d="M21 12h1v1H21z"/><path fill="#7c2058" d="M22 12h1v1H22z"/><path fill="#7e225a" d="M23 12h2v1H23z"/><path fill="#7a2058" d="M25 12h1v1H25z"/><path fill="#7c2058" d="M26 12h1v1H26z"/><path fill="#82265a" d="M27 12h1v1H27z"/><path fill="#80245a" d="M28 12h1v1H28z"/><path fill="#7a2058" d="M29 12h1v1H29z"/><path fill="#761c56" d="M30 12h1v1H30z"/><path fill="#84285a" d="M31 12h3v1H31z"/><path fill="#86285a" d="M34 12h1v1H34z"/><path fill="#53279a" d="M35 12h1v1H35z"/><path fill="#a8699c" d="M36 12h3v1H36z"/><path fill="#53279a" d="M39 12h5v1H39z"/><path fill="#86265e" d="M44 12h1v1H44z"/><path fill="#8a2a60" d="M45 12h1v1H45z"/><path fill="#8a2c60" d="M46 12h1v1H46z"/><path fill="#882a5e" d="M47 12h1v1H47z"/><path fill="#8a2c60" d="M48 12h1v1H48z"/><path fill="#8e3062" d="M49 12h1v1H49z"/><path fill="#923464" d="M50 12h1v1H50z"/><path fill="#903264" d="M51 12h1v1H51z"/><path fill="#903064" d="M52 12h1v1H52z"/><path fill="#a8699c" d="M53 12h3v1H53z"/><path fill="#53279a" d="M56 12h4v1H56z"/><path fill="#80245a" d="M0 13h5v1H0z"/><path fill="#7a2056" d="M5 13h3v1H5z"/><path fill="#741c54" d="M8 13h1v1H8z"/><path fill="#6e1a50" d="M9 13h1v1H9z"/><path fill="#7a2056" d="M10 13h1v1H10z"/><path fill="#741c54" d="M11 13h1v1H11z"/><path fill="#6e1a50" d="M12 13h2v1H12z"/><path fill="#741c54" d="M14 13h1v1H14z"/><path fill="#7a2056" d="M15 13h2v1H15z"/><path fill="#6e1a50" d="M17 13h2v1H17z"/><path fill="#741c54" d="M19 13h1v1H19z"/><path fill="#701a54" d="M20 13h2v1H20z"/><path fill="#7c2058" d="M22 13h1v1H22z"/><path fill="#7e2258" d="M23 13h1v1H23z"/><path fill="#741c58" d="M24 13h2v1H24z"/><path fill="#7c2058" d="M26 13h1v1H26z"/><path fill="#80245a" d="M27 13h2v1H27z"/><path fill="#7a2058" d="M29 13h1v1H29z"/><path fill="#721a52" d="M30 13h1v1H30z"/><path fill="#80245a" d="M31 13h3v1H31z"/><path fill="#82265a" d="M34 13h1v1H34z"/><path fill="#84285c" d="M35 13h1v1H35z"/><path fill="#53279a" d="M36 13h1v1H36z"/><path fill="#a8699c" d="M37 13h2v1H37z"/><path fill="#53279a" d="M39 13h4v1H39z"/><path fill="#882860" d="M43 13h1v1H43z"/><path fill="#86285e" d="M44 13h1v1H44z"/><path fill="#88295e" d="M45 13h1v1H45z"/><path fill="#8a2c60" d="M46 13h1v1H46z"/><path fill="#882a5e" d="M47 13h1v1H47z"/><path fill="#8c2e60" d="M48 13h1v1H48z"/><path fill="#903262" d="M49 13h1v1H49z"/><path fill="#943664" d="M50 13h1v1H50z"/><path fill="#923464" d="M51 13h1v1H51z"/><path fill="#9a3c74" d="M52 13h1v1H52z"/><path fill="#a8699c" d="M53 13h2v1H53z"/><path fill="#53279a" d="M55 13h5v1H55z"/><path fill="#7a2056" d="M0 14h3v1H0z"/><path fill="#80245a" d="M3 14h2v1H3z"/><path fill="#7a2056" d="M5 14h3v1H5z"/><path fill="#741c54" d="M8 14h1v1H8z"/><path fill="#6e1a50" d="M9 14h1v1H9z"/><path fill="#80245a" d="M10 14h1v1H10z"/><path fill="#741c54" d="M11 14h1v1H11z"/><path fill="#6e1a50" d="M12 14h3v1H12z"/><path fill="#741c54" d="M15 14h2v1H15z"/><path fill="#6e1a50" d="M17 14h2v1H17z"/><path fill="#741c54" d="M19 14h1v1H19z"/><path fill="#6e1a50" d="M20 14h2v1H20z"/><path fill="#741c54" d="M22 14h2v1H22z"/><path fill="#7a2056" d="M24 14h4v1H24z"/><path fill="#741c54" d="M28 14h3v1H28z"/><path fill="#7a2056" d="M31 14h6v1H31z"/><path fill="#53279a" d="M37 14h5v1H37z"/><path fill="#8a2a5e" d="M42 14h1v1H42z"/><path fill="#882a5e" d="M43 14h1v1H43z"/><path fill="#86285c" d="M44 14h1v1H44z"/><path fill="#882a5e" d="M45 14h1v1H45z"/><path fill="#8a2c5e" d="M46 14h2v1H46z"/><path fill="#8e3060" d="M48 14h2v1H48z"/><path fill="#923462" d="M50 14h1v1H50z"/><path fill="#9a3c74" d="M51 14h1v1H51z"/><path fill="#a8699c" d="M52 14h3v1H52z"/><path fill="#53279a" d="M55 14h5v1H55z"/><path fill="#7a2056" d="M0 15h2v1H0z"/><path fill="#741c54" d="M2 15h4v1H2z"/><path fill="#7a2056" d="M6 15h1v1H6z"/><path fill="#741c54" d="M7 15h1v1H7z"/><path fill="#6e1a50" d="M8 15h1v1H8z"/><path fill="#741c54" d="M9 15h1v1H9z"/><path fill="#80245a" d="M10 15h1v1H10z"/><path fill="#741c54" d="M11 15h1v1H11z"/><path fill="#6e1a50" d="M12 15h7v1H12z"/><path fill="#741c54" d="M19 15h1v1H19z"/><path fill="#6e1a50" d="M20 15h3v1H20z"/><path fill="#741c54" d="M23 15h2v1H23z"/><path fill="#7a2056" d="M25 15h2v1H25z"/><path fill="#741c54" d="M27 15h1v1H27z"/><path fill="#6e1a50" d="M28 15h3v1H28z"/><path fill="#741c54" d="M31 15h2v1H31z"/><path fill="#6e1a50" d="M33 15h2v1H33z"/><path fill="#741c54" d="M35 15h2v1H35z"/><path fill="#7a2056" d="M37 15h1v1H37z"/><path fill="#882a5e" d="M38 15h1v1H38z"/><path fill="#53279a" d="M39 15h2v1H39z"/><path fill="#84285c" d="M41 15h1v1H41z"/><path fill="#82265a" d="M42 15h3v1H42z"/><path fill="#84285c" d="M45 15h1v1H45z"/><path fill="#86285c" d="M46 15h2v1H46z"/><path fill="#882a5c" d="M48 15h1v1H48z"/><path fill="#8a2c5e" d="M49 15h1v1H49z"/><path fill="#903262" d="M50 15h1v1H50z"/><path fill="#963a74" d="M51 15h1v1H51z"/><path fill="#a8699c" d="M52 15h6v1H52z"/><path fill="#53279a" d="M58 15h2v1H58z"/><path fill="#7a2056" d="M0 16h1v1H0z"/><path fill="#741c54" d="M1 16h5v1H1z"/><path fill="#6e1a50" d="M6 16h3v1H6z"/><path fill="#741c54" d="M9 16h2v1H9z"/><path fill="#6e1a50" d="M11 16h8v1H11z"/><path fill="#741c54" d="M19 16h1v1H19z"/><path fill="#6e1a50" d="M20 16h3v1H20z"/><path fill="#741c54" d="M23 16h1v1H23z"/><path fill="#7a2056" d="M24 16h3v1H24z"/><path fill="#741c54" d="M27 16h3v1H27z"/><path fill="#6e1a50" d="M30 16h1v1H30z"/><path fill="#741c54" d="M31 16h2v1H31z"/><path fill="#6e1a50" d="M33 16h2v1H33z"/><path fill="#741c54" d="M35 16h5v1H35z"/><path fill="#7a2056" d="M40 16h4v1H40z"/><path fill="#7c2256" d="M44 16h2v1H44z"/><path fill="#7e2458" d="M46 16h1v1H46z"/><path fill="#802458" d="M47 16h2v1H47z"/><path fill="#7e2458" d="M49 16h1v1H49z"/><path fill="#862a60" d="M50 16h1v1H50z"/><path fill="#a8699c" d="M51 16h8v1H51z"/><path fill="#53279a" d="M59 16h1v1H59z"/><path fill="#741c54" d="M0 17h1v1H0z"/><path fill="#6e1a50" d="M1 17h1v1H1z"/><path fill="#741c54" d="M2 17h3v1H2z"/><path fill="#6e1a50" d="M5 17h4v1H5z"/><path fill="#741c54" d="M9 17h2v1H9z"/><path fill="#6e1a50" d="M11 17h5v1H11z"/><path fill="#741c54" d="M16 17h1v1H16z"/><path fill="#6e1a50" d="M17 17h5v1H17z"/><path fill="#741c54" d="M22 17h2v1H22z"/><path fill="#6e1a50" d="M24 17h4v1H24z"/><path fill="#741c54" d="M28 17h3v1H28z"/><path fill="#6e1a50" d="M31 17h9v1H31z"/><path fill="#721c52" d="M40 17h4v1H40z"/><path fill="#741c52" d="M44 17h4v1H44z"/><path fill="#761e54" d="M48 17h1v1H48z"/><path fill="#7a2058" d="M49 17h1v1H49z"/><path fill="#862a60" d="M50 17h1v1H50z"/><path fill="#944074" d="M51 17h1v1H51z"/><path fill="#984478" d="M52 17h1v1H52z"/><path fill="#9c4880" d="M53 17h1v1H53z"/><path fill="#a8699c" d="M54 17h5v1H54z"/><path fill="#53279a" d="M59 17h1v1H59z"/><path fill="#6e1a50" d="M0 18h8v1H0z"/><path fill="#741c54" d="M8 18h1v1H8z"/><path fill="#7a2056" d="M9 18h2v1H9z"/><path fill="#6e1a50" d="M11 18h2v1H11z"/><path fill="#741c54" d="M13 18h11v1H13z"/><path fill="#6e1a50" d="M24 18h3v1H24z"/><path fill="#741c54" d="M27 18h1v1H27z"/><path fill="#7a2056" d="M28 18h1v1H28z"/><path fill="#6e1a50" d="M29 18h13v1H29z"/><path fill="#741e52" d="M42 18h2v1H42z"/><path fill="#701a50" d="M44 18h4v1H44z"/><path fill="#721c52" d="M48 18h1v1H48z"/><path fill="#822858" d="M49 18h1v1H49z"/><path fill="#8c305e" d="M50 18h1v1H50z"/><path fill="#8a2e5e" d="M51 18h1v1H51z"/><path fill="#88306a" d="M52 18h1v1H52z"/><path fill="#963c7c" d="M53 18h1v1H53z"/><path fill="#a8699c" d="M54 18h4v1H54z"/><path fill="#53279a" d="M58 18h2v1H58z"/><path fill="#6e1a50" d="M0 19h4v1H0z"/><path fill="#741c54" d="M4 19h1v1H4z"/><path fill="#6e1a50" d="M5 19h2v1H5z"/><path fill="#741c54" d="M7 19h2v1H7z"/><path fill="#7a2056" d="M9 19h1v1H9z"/><path fill="#741c54" d="M10 19h8v1H10z"/><path fill="#6e1a50" d="M18 19h1v1H18z"/><path fill="#741c54" d="M19 19h2v1H19z"/><path fill="#7a2056" d="M21 19h2v1H21z"/><path fill="#741c54" d="M23 19h1v1H23z"/><path fill="#6e1a50" d="M24 19h2v1H24z"/><path fill="#741c54" d="M26 19h2v1H26z"/><path fill="#6e1a50" d="M28 19h14v1H28z"/><path fill="#761e54" d="M42 19h2v1H42z"/><path fill="#701a50" d="M44 19h5v1H44z"/><path fill="#82285a" d="M49 19h1v1H49z"/><path fill="#8c305e" d="M50 19h1v1H50z"/><path fill="#8a2e5e" d="M51 19h1v1H51z"/><path fill="#862c68" d="M52 19h1v1H52z"/><path fill="#943a7a" d="M53 19h1v1H53z"/><path fill="#a8699c" d="M54 19h3v1H54z"/><path fill="#53279a" d="M57 19h3v1H57z"/><path fill="#741c54" d="M0 20h4v1H0z"/><path fill="#80245a" d="M4 20h1v1H4z"/><path fill="#7a2056" d="M5 20h1v1H5z"/><path fill="#741c54" d="M6 20h1v1H6z"/><path fill="#7a2056" d="M7 20h1v1H7z"/><path fill="#6e1a50" d="M8 20h3v1H8z"/><path fill="#741c54" d="M11 20h3v1H11z"/><path fill="#6e1a50" d="M14 20h2v1H14z"/><path fill="#741c54" d="M16 20h3v1H16z"/><path fill="#7a2056" d="M19 20h1v1H19z"/><path fill="#80245a" d="M20 20h1v1H20z"/><path fill="#7a2056" d="M21 20h2v1H21z"/><path fill="#741c54" d="M23 20h1v1H23z"/><path fill="#6e1a50" d="M24 20h1v1H24z"/><path fill="#741c54" d="M25 20h2v1H25z"/><path fill="#6e1a50" d="M27 20h13v1H27z"/><path fill="#721c52" d="M40 20h2v1H40z"/><path fill="#701a50" d="M42 20h6v1H42z"/><path fill="#741c54" d="M48 20h1v1H48z"/><path fill="#82285a" d="M49 20h1v1H49z"/><path fill="#8e325e" d="M50 20h1v1H50z"/><path fill="#8c305e" d="M51 20h1v1H51z"/><path fill="#862a64" d="M52 20h1v1H52z"/><path fill="#8c3474" d="M53 20h1v1H53z"/><path fill="#a8699c" d="M54 20h3v1H54z"/><path fill="#53279a" d="M57 20h3v1H57z"/></svg>
<svg class="g" style="left:15px;top:501px" width="1067" height="374" viewBox="0 0 1067 374" fill="#000"><circle cx="9.5" cy="131.5" r="1.5"/><circle cx="27.5" cy="126.5" r="1.5"/><circle cx="44.5" cy="125.5" r="1.5"/><circle cx="62.5" cy="133.5" r="1.5"/><circle cx="80.5" cy="133.5" r="1.5"/><circle cx="98.5" cy="138.5" r="1.5"/><circle cx="115.5" cy="151.5" r="1.5"/><circle cx="116.5" cy="151.5" r="1.5"/><circle cx="133.5" cy="157.5" r="1.5"/><circle cx="151.5" cy="162.5" r="1.5"/><circle cx="169.5" cy="164.5" r="1.5"/><circle cx="187.5" cy="162.5" r="1.5"/><circle cx="198.5" cy="151.5" r="1.5"/><circle cx="204.5" cy="142.5" r="1.5"/><circle cx="215.5" cy="133.5" r="1.5"/><circle cx="222.5" cy="128.5" r="1.5"/><circle cx="226.5" cy="133.5" r="1.5"/><circle cx="239.2" cy="151.2" r="1.5"/><circle cx="240.4" cy="152.4" r="1.5"/><circle cx="258.5" cy="161.5" r="1.5"/><circle cx="275.5" cy="161.5" r="1.5"/><circle cx="293.5" cy="160.5" r="1.5"/><circle cx="311.5" cy="155.5" r="1.5"/><circle cx="329.5" cy="154.5" r="1.5"/><circle cx="347.5" cy="157.5" r="1.5"/><circle cx="364.5" cy="162.5" r="1.5"/><circle cx="382.5" cy="154.5" r="1.5"/><circle cx="390.5" cy="151.5" r="1.5"/><circle cx="400.5" cy="148.5" r="1.5"/><circle cx="406.5" cy="151.5" r="1.5"/><circle cx="418.5" cy="161.5" r="1.5"/><circle cx="425.5" cy="169.5" r="1.5"/><circle cx="435.5" cy="175.5" r="1.5"/><circle cx="449.5" cy="169.5" r="1.5"/><circle cx="453.5" cy="166.5" r="1.5"/><circle cx="471.5" cy="161.5" r="1.5"/><circle cx="489.5" cy="164.5" r="1.5"/><circle cx="507.5" cy="166.5" r="1.5"/><circle cx="511.5" cy="169.5" r="1.5"/><circle cx="524.5" cy="177.5" r="1.5"/><circle cx="537.5" cy="187.5" r="1.5"/><circle cx="542.5" cy="191.5" r="1.5"/><circle cx="560.5" cy="193.5" r="1.5"/><circle cx="578.5" cy="197.5" r="1.5"/><circle cx="595.5" cy="194.5" r="1.5"/><circle cx="613.5" cy="195.5" r="1.5"/><circle cx="629.5" cy="204.5" r="1.5"/><circle cx="631.5" cy="207.5" r="1.5"/><circle cx="639.5" cy="222.5" r="1.5"/><circle cx="649.5" cy="234.5" r="1.5"/><circle cx="654.5" cy="240.5" r="1.5"/><circle cx="666.5" cy="258.5" r="1.5"/><circle cx="684.5" cy="268.5" r="1.5"/><circle cx="702.5" cy="269.5" r="1.5"/><circle cx="880.5" cy="157.5" r="1.5"/><circle cx="898.5" cy="152.5" r="1.5"/><circle cx="915.5" cy="159.5" r="1.5"/><circle cx="933.5" cy="155.5" r="1.5"/><circle cx="940.5" cy="169.5" r="1.5"/><circle cx="860.5" cy="169.5" r="1.5"/><circle cx="862.5" cy="168.5" r="1.5"/><circle cx="844.5" cy="182.5" r="1.5"/><circle cx="833.5" cy="187.5" r="1.5"/><circle cx="947.5" cy="187.5" r="1.5"/><circle cx="720.5" cy="274.5" r="1.5"/><circle cx="735.5" cy="258.5" r="1.5"/><circle cx="738.5" cy="248.5" r="1.5"/><circle cx="741.5" cy="240.5" r="1.5"/><circle cx="755.5" cy="222.5" r="1.5"/><circle cx="773.5" cy="216.5" r="1.5"/><circle cx="785.5" cy="204.5" r="1.5"/><circle cx="791.5" cy="199.5" r="1.5"/><circle cx="809.5" cy="191.5" r="1.5"/><circle cx="826.5" cy="189.5" r="1.5"/><circle cx="949.5" cy="204.5" r="1.5"/><circle cx="942.5" cy="222.5" r="1.5"/><circle cx="933.5" cy="240.5" r="1.5"/><circle cx="925.5" cy="258.5" r="1.5"/><circle cx="917.5" cy="275.5" r="1.5"/><circle cx="915.5" cy="280.5" r="1.5"/><circle cx="910.5" cy="293.5" r="1.5"/><circle cx="915.5" cy="301.5" r="1.5"/><circle cx="933.5" cy="309.5" r="1.5"/><circle cx="939.5" cy="311.5" r="1.5"/><circle cx="951.5" cy="319.5" r="1.5"/><circle cx="957.5" cy="329.5" r="1.5"/><circle cx="958.5" cy="347.5" r="1.5"/><circle cx="962.5" cy="364.5" r="1.5"/></svg>
<div class="rim" style="top:501px"></div>
<div class="t" style="top:904.3px"><span style="transform:scaleX(1.04)">L7</span></div>
<svg class="g" style="left:15px;top:949px" width="1067" height="373.4" viewBox="0 0 60 21" preserveAspectRatio="none" shape-rendering="crispEdges"><path fill="#72209c" d="M0 0h2v1H0z"/><path fill="#6e1c9c" d="M2 0h1v1H2z"/><path fill="#6a189c" d="M3 0h1v1H3z"/><path fill="#6e1c9c" d="M4 0h1v1H4z"/><path fill="#70209c" d="M5 0h1v1H5z"/><path fill="#74229c" d="M6 0h1v1H6z"/><path fill="#75239c" d="M7 0h1v1H7z"/><path fill="#69189c" d="M8 0h1v1H8z"/><path fill="#5d0d9c" d="M9 0h1v1H9z"/><path fill="#79299c" d="M10 0h1v1H10z"/><path fill="#863aa0" d="M11 0h1v1H11z"/><path fill="#64129a" d="M12 0h1v1H12z"/><path fill="#62109a" d="M13 0h1v1H13z"/><path fill="#63119a" d="M14 0h1v1H14z"/><path fill="#72219c" d="M15 0h1v1H15z"/><path fill="#68169a" d="M16 0h1v1H16z"/><path fill="#69179a" d="M17 0h1v1H17z"/><path fill="#66149a" d="M18 0h1v1H18z"/><path fill="#6b199a" d="M19 0h1v1H19z"/><path fill="#701f9c" d="M20 0h1v1H20z"/><path fill="#74229d" d="M21 0h1v1H21z"/><path fill="#7a2aa0" d="M22 0h1v1H22z"/><path fill="#7c2ca0" d="M23 0h1v1H23z"/><path fill="#66149a" d="M24 0h1v1H24z"/><path fill="#64129a" d="M25 0h1v1H25z"/><path fill="#66149a" d="M26 0h2v1H26z"/><path fill="#65139a" d="M28 0h1v1H28z"/><path fill="#69179a" d="M29 0h2v1H29z"/><path fill="#6a189a" d="M31 0h1v1H31z"/><path fill="#701e9c" d="M32 0h1v1H32z"/><path fill="#6f1e9c" d="M33 0h1v1H33z"/><path fill="#6c1b9a" d="M34 0h1v1H34z"/><path fill="#69189a" d="M35 0h1v1H35z"/><path fill="#611098" d="M36 0h1v1H36z"/><path fill="#6e1e9c" d="M37 0h1v1H37z"/><path fill="#6a199a" d="M38 0h1v1H38z"/><path fill="#5e0c98" d="M39 0h1v1H39z"/><path fill="#62109a" d="M40 0h1v1H40z"/><path fill="#66159a" d="M41 0h1v1H41z"/><path fill="#73239c" d="M42 0h1v1H42z"/><path fill="#7a2a9f" d="M43 0h1v1H43z"/><path fill="#6d1d9c" d="M44 0h1v1H44z"/><path fill="#67169a" d="M45 0h1v1H45z"/><path fill="#69179a" d="M46 0h1v1H46z"/><path fill="#711f9c" d="M47 0h1v1H47z"/><path fill="#71219c" d="M48 0h1v1H48z"/><path fill="#73239c" d="M49 0h1v1H49z"/><path fill="#6b199a" d="M50 0h1v1H50z"/><path fill="#6a189a" d="M51 0h1v1H51z"/><path fill="#6c1a9a" d="M52 0h1v1H52z"/><path fill="#6a189a" d="M53 0h1v1H53z"/><path fill="#67159a" d="M54 0h1v1H54z"/><path fill="#68179a" d="M55 0h1v1H55z"/><path fill="#69179a" d="M56 0h1v1H56z"/><path fill="#6a189a" d="M57 0h2v1H57z"/><path fill="#69179a" d="M59 0h1v1H59z"/><path fill="#77279f" d="M0 1h1v1H0z"/><path fill="#6e1e9c" d="M1 1h1v1H1z"/><path fill="#6d1c9c" d="M2 1h1v1H2z"/><path fill="#6a189c" d="M3 1h1v1H3z"/><path fill="#67159c" d="M4 1h1v1H4z"/><path fill="#74229c" d="M5 1h1v1H5z"/><path fill="#77259c" d="M6 1h1v1H6z"/><path fill="#75239c" d="M7 1h1v1H7z"/><path fill="#64139a" d="M8 1h1v1H8z"/><path fill="#5a089a" d="M9 1h1v1H9z"/><path fill="#600e9a" d="M10 1h1v1H10z"/><path fill="#701e9c" d="M11 1h1v1H11z"/><path fill="#62109a" d="M12 1h1v1H12z"/><path fill="#600e98" d="M13 1h1v1H13z"/><path fill="#63119a" d="M14 1h1v1H14z"/><path fill="#701f9c" d="M15 1h1v1H15z"/><path fill="#6f1f9c" d="M16 1h1v1H16z"/><path fill="#63119a" d="M17 1h1v1H17z"/><path fill="#64129a" d="M18 1h1v1H18z"/><path fill="#6f1f9c" d="M19 1h1v1H19z"/><path fill="#7b2b9f" d="M20 1h1v1H20z"/><path fill="#8130a0" d="M21 1h1v1H21z"/><path fill="#8232a0" d="M22 1h1v1H22z"/><path fill="#71219c" d="M23 1h1v1H23z"/><path fill="#62109a" d="M24 1h1v1H24z"/><path fill="#69179a" d="M25 1h1v1H25z"/><path fill="#66149a" d="M26 1h1v1H26z"/><path fill="#6a1a9c" d="M27 1h1v1H27z"/><path fill="#67159a" d="M28 1h1v1H28z"/><path fill="#72209c" d="M29 1h1v1H29z"/><path fill="#71209c" d="M30 1h1v1H30z"/><path fill="#67159a" d="M31 1h1v1H31z"/><path fill="#64129a" d="M32 1h1v1H32z"/><path fill="#6b1a9a" d="M33 1h1v1H33z"/><path fill="#68179a" d="M34 1h1v1H34z"/><path fill="#64139a" d="M35 1h1v1H35z"/><path fill="#5c0a98" d="M36 1h1v1H36z"/><path fill="#67159a" d="M37 1h1v1H37z"/><path fill="#67179a" d="M38 1h1v1H38z"/><path fill="#5c0a98" d="M39 1h1v1H39z"/><path fill="#611098" d="M40 1h1v1H40z"/><path fill="#64129a" d="M41 1h1v1H41z"/><path fill="#71219c" d="M42 1h1v1H42z"/><path fill="#74249c" d="M43 1h1v1H43z"/><path fill="#75259c" d="M44 1h1v1H44z"/><path fill="#6e1d9c" d="M45 1h1v1H45z"/><path fill="#67159a" d="M46 1h1v1H46z"/><path fill="#6c1c9c" d="M47 1h1v1H47z"/><path fill="#701f9c" d="M48 1h1v1H48z"/><path fill="#6b1a9a" d="M49 1h1v1H49z"/><path fill="#711f9c" d="M50 1h1v1H50z"/><path fill="#6c1a9a" d="M51 1h1v1H51z"/><path fill="#6a189a" d="M52 1h1v1H52z"/><path fill="#68169a" d="M53 1h1v1H53z"/><path fill="#6a189a" d="M54 1h1v1H54z"/><path fill="#6d1c9c" d="M55 1h1v1H55z"/><path fill="#6b1b9c" d="M56 1h1v1H56z"/><path fill="#6a189a" d="M57 1h1v1H57z"/><path fill="#6e1d9c" d="M58 1h1v1H58z"/><path fill="#6e1e9c" d="M59 1h1v1H59z"/><path fill="#68179c" d="M0 2h2v1H0z"/><path fill="#6c1a9c" d="M2 2h1v1H2z"/><path fill="#69179c" d="M3 2h1v1H3z"/><path fill="#67159c" d="M4 2h1v1H4z"/><path fill="#6c1a9c" d="M5 2h1v1H5z"/><path fill="#6f1e9c" d="M6 2h1v1H6z"/><path fill="#6f1f9c" d="M7 2h1v1H7z"/><path fill="#610f9a" d="M8 2h1v1H8z"/><path fill="#58069a" d="M9 2h1v1H9z"/><path fill="#5b099a" d="M10 2h1v1H10z"/><path fill="#6b1a9c" d="M11 2h1v1H11z"/><path fill="#62109a" d="M12 2h1v1H12z"/><path fill="#580698" d="M13 2h1v1H13z"/><path fill="#62109a" d="M14 2h1v1H14z"/><path fill="#78289c" d="M15 2h1v1H15z"/><path fill="#6e1e9c" d="M16 2h1v1H16z"/><path fill="#63119a" d="M17 2h1v1H17z"/><path fill="#65139a" d="M18 2h1v1H18z"/><path fill="#73239c" d="M19 2h1v1H19z"/><path fill="#8939a0" d="M20 2h1v1H20z"/><path fill="#7b2ba0" d="M21 2h1v1H21z"/><path fill="#62119a" d="M22 2h1v1H22z"/><path fill="#69179a" d="M23 2h1v1H23z"/><path fill="#6a189a" d="M24 2h1v1H24z"/><path fill="#69179a" d="M25 2h1v1H25z"/><path fill="#5e0c98" d="M26 2h2v1H26z"/><path fill="#75259c" d="M28 2h1v1H28z"/><path fill="#7e2e9f" d="M29 2h1v1H29z"/><path fill="#7c2c9f" d="M30 2h1v1H30z"/><path fill="#6c1c9c" d="M31 2h1v1H31z"/><path fill="#5f0d99" d="M32 2h1v1H32z"/><path fill="#6c1c9c" d="M33 2h1v1H33z"/><path fill="#66149a" d="M34 2h1v1H34z"/><path fill="#600e98" d="M35 2h1v1H35z"/><path fill="#5b0998" d="M36 2h1v1H36z"/><path fill="#5c0a98" d="M37 2h1v1H37z"/><path fill="#5b0998" d="M38 2h1v1H38z"/><path fill="#6d1d9c" d="M39 2h1v1H39z"/><path fill="#71219c" d="M40 2h1v1H40z"/><path fill="#6f1f9c" d="M41 2h1v1H41z"/><path fill="#68179a" d="M42 2h1v1H42z"/><path fill="#73239c" d="M43 2h2v1H43z"/><path fill="#6f1f9c" d="M45 2h1v1H45z"/><path fill="#69179a" d="M46 2h1v1H46z"/><path fill="#621199" d="M47 2h1v1H47z"/><path fill="#6d1d9c" d="M48 2h1v1H48z"/><path fill="#71219c" d="M49 2h2v1H49z"/><path fill="#6e1e9c" d="M51 2h1v1H51z"/><path fill="#6a189a" d="M52 2h1v1H52z"/><path fill="#68169a" d="M53 2h2v1H53z"/><path fill="#6a189a" d="M55 2h1v1H55z"/><path fill="#64129a" d="M56 2h1v1H56z"/><path fill="#6a189a" d="M57 2h1v1H57z"/><path fill="#6f1f9c" d="M58 2h1v1H58z"/><path fill="#70209c" d="M59 2h1v1H59z"/><path fill="#69179c" d="M0 3h2v1H0z"/><path fill="#6c1a9c" d="M2 3h1v1H2z"/><path fill="#6a189c" d="M3 3h1v1H3z"/><path fill="#69179c" d="M4 3h1v1H4z"/><path fill="#6b199c" d="M5 3h1v1H5z"/><path fill="#6c1a9c" d="M6 3h1v1H6z"/><path fill="#6f1e9c" d="M7 3h1v1H7z"/><path fill="#68169c" d="M8 3h1v1H8z"/><path fill="#63119a" d="M9 3h1v1H9z"/><path fill="#70209c" d="M10 3h1v1H10z"/><path fill="#711f9c" d="M11 3h1v1H11z"/><path fill="#5a089a" d="M12 3h1v1H12z"/><path fill="#570598" d="M13 3h1v1H13z"/><path fill="#5f0d9a" d="M14 3h1v1H14z"/><path fill="#74249c" d="M15 3h1v1H15z"/><path fill="#6c1c9c" d="M16 3h1v1H16z"/><path fill="#65139a" d="M17 3h1v1H17z"/><path fill="#66149a" d="M18 3h1v1H18z"/><path fill="#69179a" d="M19 3h1v1H19z"/><path fill="#8232a0" d="M20 3h1v1H20z"/><path fill="#72229c" d="M21 3h1v1H21z"/><path fill="#5d0b98" d="M22 3h1v1H22z"/><path fill="#6b1b9b" d="M23 3h1v1H23z"/><path fill="#64129a" d="M24 3h1v1H24z"/><path fill="#62109a" d="M25 3h1v1H25z"/><path fill="#610f98" d="M26 3h1v1H26z"/><path fill="#6f1e9c" d="M27 3h1v1H27z"/><path fill="#71219c" d="M28 3h1v1H28z"/><path fill="#73239c" d="M29 3h1v1H29z"/><path fill="#6b199a" d="M30 3h1v1H30z"/><path fill="#76269c" d="M31 3h1v1H31z"/><path fill="#701f9c" d="M32 3h1v1H32z"/><path fill="#64129a" d="M33 3h1v1H33z"/><path fill="#69189a" d="M34 3h1v1H34z"/><path fill="#66149a" d="M35 3h1v1H35z"/><path fill="#5b0998" d="M36 3h1v1H36z"/><path fill="#5c0a98" d="M37 3h1v1H37z"/><path fill="#5d0b98" d="M38 3h1v1H38z"/><path fill="#6d1d9c" d="M39 3h1v1H39z"/><path fill="#76269c" d="M40 3h1v1H40z"/><path fill="#74249c" d="M41 3h1v1H41z"/><path fill="#6e1e9c" d="M42 3h2v1H42z"/><path fill="#6d1d9c" d="M44 3h1v1H44z"/><path fill="#6e1e9c" d="M45 3h1v1H45z"/><path fill="#6c1c9c" d="M46 3h1v1H46z"/><path fill="#6b199a" d="M47 3h2v1H47z"/><path fill="#701f9c" d="M49 3h1v1H49z"/><path fill="#73239c" d="M50 3h1v1H50z"/><path fill="#6e1e9c" d="M51 3h1v1H51z"/><path fill="#6f1e9c" d="M52 3h1v1H52z"/><path fill="#68169a" d="M53 3h4v1H53z"/><path fill="#6a189a" d="M57 3h1v1H57z"/><path fill="#6f1f9c" d="M58 3h1v1H58z"/><path fill="#6e1e9c" d="M59 3h1v1H59z"/><path fill="#64129a" d="M0 4h1v1H0z"/><path fill="#5c0a9a" d="M1 4h1v1H1z"/><path fill="#5e0c9a" d="M2 4h1v1H2z"/><path fill="#62109a" d="M3 4h1v1H3z"/><path fill="#5c0a9a" d="M4 4h1v1H4z"/><path fill="#610f9a" d="M5 4h1v1H5z"/><path fill="#600f9a" d="M6 4h1v1H6z"/><path fill="#6e1e9c" d="M7 4h1v1H7z"/><path fill="#6b1a9c" d="M8 4h1v1H8z"/><path fill="#68169c" d="M9 4h1v1H9z"/><path fill="#6b199c" d="M10 4h1v1H10z"/><path fill="#5c0a99" d="M11 4h1v1H11z"/><path fill="#590798" d="M12 4h1v1H12z"/><path fill="#580698" d="M13 4h1v1H13z"/><path fill="#5d0b9a" d="M14 4h1v1H14z"/><path fill="#6b199c" d="M15 4h1v1H15z"/><path fill="#6d1b9c" d="M16 4h1v1H16z"/><path fill="#63119a" d="M17 4h1v1H17z"/><path fill="#610f9a" d="M18 4h1v1H18z"/><path fill="#62109a" d="M19 4h1v1H19z"/><path fill="#5e0c98" d="M20 4h1v1H20z"/><path fill="#5c0a98" d="M21 4h1v1H21z"/><path fill="#5b0998" d="M22 4h1v1H22z"/><path fill="#5f0d98" d="M23 4h2v1H23z"/><path fill="#600e98" d="M25 4h1v1H25z"/><path fill="#67159a" d="M26 4h1v1H26z"/><path fill="#64129a" d="M27 4h1v1H27z"/><path fill="#67159a" d="M28 4h1v1H28z"/><path fill="#65139a" d="M29 4h1v1H29z"/><path fill="#64129a" d="M30 4h1v1H30z"/><path fill="#6d1d9c" d="M31 4h1v1H31z"/><path fill="#6f1f9c" d="M32 4h1v1H32z"/><path fill="#5a0898" d="M33 4h1v1H33z"/><path fill="#74249c" d="M34 4h1v1H34z"/><path fill="#72229c" d="M35 4h1v1H35z"/><path fill="#5b0998" d="M36 4h1v1H36z"/><path fill="#590798" d="M37 4h2v1H37z"/><path fill="#5d0b98" d="M39 4h1v1H39z"/><path fill="#63129a" d="M40 4h1v1H40z"/><path fill="#64129a" d="M41 4h1v1H41z"/><path fill="#71219c" d="M42 4h1v1H42z"/><path fill="#6e1e9c" d="M43 4h1v1H43z"/><path fill="#6b199a" d="M44 4h1v1H44z"/><path fill="#70209c" d="M45 4h1v1H45z"/><path fill="#79299f" d="M46 4h1v1H46z"/><path fill="#74249c" d="M47 4h1v1H47z"/><path fill="#69189a" d="M48 4h1v1H48z"/><path fill="#6e1d9c" d="M49 4h1v1H49z"/><path fill="#6b199a" d="M50 4h1v1H50z"/><path fill="#68179a" d="M51 4h1v1H51z"/><path fill="#68169a" d="M52 4h1v1H52z"/><path fill="#6a189a" d="M53 4h2v1H53z"/><path fill="#67159a" d="M55 4h1v1H55z"/><path fill="#65139a" d="M56 4h1v1H56z"/><path fill="#67159a" d="M57 4h1v1H57z"/><path fill="#6e1e9c" d="M58 4h1v1H58z"/><path fill="#6a189a" d="M59 4h1v1H59z"/><path fill="#5d0b9a" d="M0 5h1v1H0z"/><path fill="#62109a" d="M1 5h1v1H1z"/><path fill="#66149c" d="M2 5h1v1H2z"/><path fill="#68169c" d="M3 5h1v1H3z"/><path fill="#6a189c" d="M4 5h1v1H4z"/><path fill="#66149c" d="M5 5h1v1H5z"/><path fill="#62109a" d="M6 5h1v1H6z"/><path fill="#6b1a9c" d="M7 5h1v1H7z"/><path fill="#66149c" d="M8 5h1v1H8z"/><path fill="#68169c" d="M9 5h2v1H9z"/><path fill="#6a189c" d="M11 5h1v1H11z"/><path fill="#78289c" d="M12 5h1v1H12z"/><path fill="#63119a" d="M13 5h1v1H13z"/><path fill="#62109a" d="M14 5h1v1H14z"/><path fill="#66149a" d="M15 5h2v1H15z"/><path fill="#63119a" d="M17 5h1v1H17z"/><path fill="#610f9a" d="M18 5h1v1H18z"/><path fill="#5c0a9a" d="M19 5h1v1H19z"/><path fill="#5b0998" d="M20 5h1v1H20z"/><path fill="#5a0898" d="M21 5h1v1H21z"/><path fill="#5c0a98" d="M22 5h1v1H22z"/><path fill="#67159a" d="M23 5h1v1H23z"/><path fill="#5a0898" d="M24 5h2v1H24z"/><path fill="#64129a" d="M26 5h1v1H26z"/><path fill="#6c1c9c" d="M27 5h1v1H27z"/><path fill="#67159a" d="M28 5h1v1H28z"/><path fill="#65139a" d="M29 5h1v1H29z"/><path fill="#66149a" d="M30 5h1v1H30z"/><path fill="#69179a" d="M31 5h1v1H31z"/><path fill="#5f0d98" d="M32 5h1v1H32z"/><path fill="#570598" d="M33 5h1v1H33z"/><path fill="#7a2a9c" d="M34 5h1v1H34z"/><path fill="#78289c" d="M35 5h1v1H35z"/><path fill="#5c0a98" d="M36 5h1v1H36z"/><path fill="#5e0c98" d="M37 5h1v1H37z"/><path fill="#600e98" d="M38 5h1v1H38z"/><path fill="#63119a" d="M39 5h1v1H39z"/><path fill="#69189a" d="M40 5h1v1H40z"/><path fill="#6c1b9c" d="M41 5h1v1H41z"/><path fill="#69179a" d="M42 5h1v1H42z"/><path fill="#6f1f9c" d="M43 5h1v1H43z"/><path fill="#6c1c9c" d="M44 5h1v1H44z"/><path fill="#701f9c" d="M45 5h1v1H45z"/><path fill="#76269c" d="M46 5h1v1H46z"/><path fill="#71219c" d="M47 5h1v1H47z"/><path fill="#6b199a" d="M48 5h1v1H48z"/><path fill="#6f1e9c" d="M49 5h1v1H49z"/><path fill="#6b1a9a" d="M50 5h1v1H50z"/><path fill="#621098" d="M51 5h2v1H51z"/><path fill="#68169a" d="M53 5h2v1H53z"/><path fill="#6b1b9c" d="M55 5h2v1H55z"/><path fill="#68169a" d="M57 5h1v1H57z"/><path fill="#65139a" d="M58 5h1v1H58z"/><path fill="#66149a" d="M59 5h1v1H59z"/><path fill="#63119c" d="M0 6h1v1H0z"/><path fill="#8939a0" d="M1 6h1v1H1z"/><path fill="#8e3ea0" d="M2 6h1v1H2z"/><path fill="#8535a0" d="M3 6h1v1H3z"/><path fill="#8232a0" d="M4 6h1v1H4z"/><path fill="#72219c" d="M5 6h1v1H5z"/><path fill="#6a189c" d="M6 6h1v1H6z"/><path fill="#65139a" d="M7 6h1v1H7z"/><path fill="#62109a" d="M8 6h1v1H8z"/><path fill="#63119a" d="M9 6h2v1H9z"/><path fill="#76269c" d="M11 6h1v1H11z"/><path fill="#9e4a9c" d="M12 6h1v1H12z"/><path fill="#711f9c" d="M13 6h1v1H13z"/><path fill="#62109a" d="M14 6h2v1H14z"/><path fill="#63119a" d="M16 6h1v1H16z"/><path fill="#67159a" d="M17 6h1v1H17z"/><path fill="#711f9c" d="M18 6h1v1H18z"/><path fill="#5f0d9a" d="M19 6h1v1H19z"/><path fill="#5c0a98" d="M20 6h1v1H20z"/><path fill="#5a0898" d="M21 6h1v1H21z"/><path fill="#580698" d="M22 6h1v1H22z"/><path fill="#5d0b98" d="M23 6h1v1H23z"/><path fill="#5f0d98" d="M24 6h1v1H24z"/><path fill="#64129a" d="M25 6h2v1H25z"/><path fill="#5a0898" d="M27 6h2v1H27z"/><path fill="#64139a" d="M29 6h1v1H29z"/><path fill="#66149a" d="M30 6h1v1H30z"/><path fill="#67159a" d="M31 6h1v1H31z"/><path fill="#600e98" d="M32 6h1v1H32z"/><path fill="#5d0b98" d="M33 6h1v1H33z"/><path fill="#80309f" d="M34 6h1v1H34z"/><path fill="#79299c" d="M35 6h1v1H35z"/><path fill="#63119a" d="M36 6h1v1H36z"/><path fill="#64129a" d="M37 6h1v1H37z"/><path fill="#66149a" d="M38 6h1v1H38z"/><path fill="#6a189a" d="M39 6h1v1H39z"/><path fill="#72229c" d="M40 6h1v1H40z"/><path fill="#6f1f9c" d="M41 6h1v1H41z"/><path fill="#69189a" d="M42 6h1v1H42z"/><path fill="#71219c" d="M43 6h1v1H43z"/><path fill="#6a189a" d="M44 6h3v1H44z"/><path fill="#69189a" d="M47 6h1v1H47z"/><path fill="#6a199a" d="M48 6h1v1H48z"/><path fill="#6c1b9c" d="M49 6h1v1H49z"/><path fill="#67159a" d="M50 6h1v1H50z"/><path fill="#68169a" d="M51 6h1v1H51z"/><path fill="#6b1a9b" d="M52 6h1v1H52z"/><path fill="#6a189a" d="M53 6h1v1H53z"/><path fill="#65139a" d="M54 6h1v1H54z"/><path fill="#65149a" d="M55 6h1v1H55z"/><path fill="#6d1d9c" d="M56 6h1v1H56z"/><path fill="#68169a" d="M57 6h1v1H57z"/><path fill="#63119a" d="M58 6h1v1H58z"/><path fill="#66149a" d="M59 6h1v1H59z"/><path fill="#c46a92" d="M0 7h1v1H0z"/><path fill="#c85c84" d="M1 7h1v1H1z"/><path fill="#c85880" d="M2 7h1v1H2z"/><path fill="#bc6498" d="M3 7h2v1H3z"/><path fill="#a450a0" d="M5 7h1v1H5z"/><path fill="#81319f" d="M6 7h1v1H6z"/><path fill="#71219c" d="M7 7h1v1H7z"/><path fill="#6b1b9c" d="M8 7h1v1H8z"/><path fill="#69199c" d="M9 7h1v1H9z"/><path fill="#6a1a9c" d="M10 7h1v1H10z"/><path fill="#ac5b9b" d="M11 7h1v1H11z"/><path fill="#c36891" d="M12 7h1v1H12z"/><path fill="#7f2f9c" d="M13 7h1v1H13z"/><path fill="#6c1c9c" d="M14 7h2v1H14z"/><path fill="#701e9c" d="M16 7h1v1H16z"/><path fill="#79289c" d="M17 7h1v1H17z"/><path fill="#81319f" d="M18 7h1v1H18z"/><path fill="#72229c" d="M19 7h1v1H19z"/><path fill="#7a2aa0" d="M20 7h1v1H20z"/><path fill="#7c2ca0" d="M21 7h1v1H21z"/><path fill="#7a2aa0" d="M22 7h1v1H22z"/><path fill="#74249c" d="M23 7h1v1H23z"/><path fill="#6e1e9c" d="M24 7h1v1H24z"/><path fill="#7f2fa0" d="M25 7h1v1H25z"/><path fill="#71219c" d="M26 7h1v1H26z"/><path fill="#6c1c9c" d="M27 7h1v1H27z"/><path fill="#6f1f9c" d="M28 7h1v1H28z"/><path fill="#66149a" d="M29 7h1v1H29z"/><path fill="#69179a" d="M30 7h1v1H30z"/><path fill="#68169a" d="M31 7h1v1H31z"/><path fill="#62109a" d="M32 7h2v1H32z"/><path fill="#6d1d9c" d="M34 7h1v1H34z"/><path fill="#6a1a9c" d="M35 7h1v1H35z"/><path fill="#68169a" d="M36 7h1v1H36z"/><path fill="#69179a" d="M37 7h1v1H37z"/><path fill="#6b1b9c" d="M38 7h1v1H38z"/><path fill="#6d1d9c" d="M39 7h1v1H39z"/><path fill="#6f1f9c" d="M40 7h1v1H40z"/><path fill="#6d1d9c" d="M41 7h1v1H41z"/><path fill="#6a189a" d="M42 7h1v1H42z"/><path fill="#6f1f9c" d="M43 7h1v1H43z"/><path fill="#75259c" d="M44 7h1v1H44z"/><path fill="#73239c" d="M45 7h1v1H45z"/><path fill="#76269c" d="M46 7h1v1H46z"/><path fill="#6b199a" d="M47 7h1v1H47z"/><path fill="#6a189a" d="M48 7h1v1H48z"/><path fill="#8535a0" d="M49 7h1v1H49z"/><path fill="#8b3ba0" d="M50 7h1v1H50z"/><path fill="#8838a0" d="M51 7h1v1H51z"/><path fill="#a5549f" d="M52 7h1v1H52z"/><path fill="#8e3ea0" d="M53 7h1v1H53z"/><path fill="#6d1c9c" d="M54 7h1v1H54z"/><path fill="#68169a" d="M55 7h1v1H55z"/><path fill="#6b1b9c" d="M56 7h1v1H56z"/><path fill="#6d1c9c" d="M57 7h1v1H57z"/><path fill="#68169a" d="M58 7h2v1H58z"/><path fill="#c85078" d="M0 8h1v1H0z"/><path fill="#c43a6a" d="M1 8h1v1H1z"/><path fill="#c8577f" d="M2 8h2v1H2z"/><path fill="#c43c68" d="M4 8h2v1H4z"/><path fill="#c06c98" d="M6 8h1v1H6z"/><path fill="#9e4ba0" d="M7 8h1v1H7z"/><path fill="#9544a0" d="M8 8h1v1H8z"/><path fill="#9141a0" d="M9 8h1v1H9z"/><path fill="#9444a0" d="M10 8h1v1H10z"/><path fill="#c06393" d="M11 8h1v1H11z"/><path fill="#c84c74" d="M12 8h1v1H12z"/><path fill="#c06897" d="M13 8h1v1H13z"/><path fill="#9747a0" d="M14 8h1v1H14z"/><path fill="#9141a0" d="M15 8h1v1H15z"/><path fill="#9040a0" d="M16 8h1v1H16z"/><path fill="#b46098" d="M17 8h1v1H17z"/><path fill="#b76398" d="M18 8h1v1H18z"/><path fill="#b25e9b" d="M19 8h1v1H19z"/><path fill="#9848a0" d="M20 8h1v1H20z"/><path fill="#b96197" d="M21 8h1v1H21z"/><path fill="#bc6498" d="M22 8h1v1H22z"/><path fill="#b45c98" d="M23 8h1v1H23z"/><path fill="#7b2ba0" d="M24 8h1v1H24z"/><path fill="#9948a0" d="M25 8h1v1H25z"/><path fill="#9343a0" d="M26 8h1v1H26z"/><path fill="#9141a0" d="M27 8h1v1H27z"/><path fill="#9545a0" d="M28 8h1v1H28z"/><path fill="#71219c" d="M29 8h1v1H29z"/><path fill="#63119a" d="M30 8h1v1H30z"/><path fill="#600e98" d="M31 8h1v1H31z"/><path fill="#5f0d98" d="M32 8h1v1H32z"/><path fill="#610f98" d="M33 8h1v1H33z"/><path fill="#5e0c98" d="M34 8h1v1H34z"/><path fill="#5c0a98" d="M35 8h1v1H35z"/><path fill="#5d0b98" d="M36 8h1v1H36z"/><path fill="#68169a" d="M37 8h1v1H37z"/><path fill="#6a199a" d="M38 8h1v1H38z"/><path fill="#6c1a9a" d="M39 8h1v1H39z"/><path fill="#66149a" d="M40 8h1v1H40z"/><path fill="#64129a" d="M41 8h1v1H41z"/><path fill="#66149a" d="M42 8h1v1H42z"/><path fill="#6b199a" d="M43 8h1v1H43z"/><path fill="#74249c" d="M44 8h1v1H44z"/><path fill="#80309f" d="M45 8h1v1H45z"/><path fill="#71219c" d="M46 8h1v1H46z"/><path fill="#6e1e9c" d="M47 8h1v1H47z"/><path fill="#8939a0" d="M48 8h1v1H48z"/><path fill="#b25d9a" d="M49 8h1v1H49z"/><path fill="#b96397" d="M50 8h1v1H50z"/><path fill="#b56097" d="M51 8h1v1H51z"/><path fill="#bb6394" d="M52 8h1v1H52z"/><path fill="#a04ca0" d="M53 8h1v1H53z"/><path fill="#72229c" d="M54 8h1v1H54z"/><path fill="#65139a" d="M55 8h1v1H55z"/><path fill="#63119a" d="M56 8h1v1H56z"/><path fill="#6a189a" d="M57 8h2v1H57z"/><path fill="#68169a" d="M59 8h1v1H59z"/><path fill="#c33464" d="M0 9h1v1H0z"/><path fill="#c8547f" d="M1 9h1v1H1z"/><path fill="#c74c78" d="M2 9h1v1H2z"/><path fill="#c74870" d="M3 9h1v1H3z"/><path fill="#c43968" d="M4 9h1v1H4z"/><path fill="#c43463" d="M5 9h1v1H5z"/><path fill="#c8426f" d="M6 9h1v1H6z"/><path fill="#c84571" d="M7 9h1v1H7z"/><path fill="#c85b83" d="M8 9h1v1H8z"/><path fill="#cb6387" d="M9 9h1v1H9z"/><path fill="#c85c84" d="M10 9h1v1H10z"/><path fill="#c74c74" d="M11 9h1v1H11z"/><path fill="#c74470" d="M12 9h1v1H12z"/><path fill="#c84c78" d="M13 9h1v1H13z"/><path fill="#c8577f" d="M14 9h1v1H14z"/><path fill="#c85880" d="M15 9h1v1H15z"/><path fill="#c8547c" d="M16 9h1v1H16z"/><path fill="#c84c74" d="M17 9h1v1H17z"/><path fill="#c84971" d="M18 9h1v1H18z"/><path fill="#c84f77" d="M19 9h1v1H19z"/><path fill="#c16692" d="M20 9h1v1H20z"/><path fill="#c84c74" d="M21 9h2v1H21z"/><path fill="#bf6795" d="M23 9h1v1H23z"/><path fill="#a4509f" d="M24 9h1v1H24z"/><path fill="#bd6496" d="M25 9h1v1H25z"/><path fill="#c3618a" d="M26 9h1v1H26z"/><path fill="#c06490" d="M27 9h1v1H27z"/><path fill="#c06793" d="M28 9h1v1H28z"/><path fill="#a757a0" d="M29 9h1v1H29z"/><path fill="#7e2ea0" d="M30 9h1v1H30z"/><path fill="#7a2aa0" d="M31 9h1v1H31z"/><path fill="#68169a" d="M32 9h1v1H32z"/><path fill="#70209c" d="M33 9h1v1H33z"/><path fill="#73239c" d="M34 9h1v1H34z"/><path fill="#6c1c9c" d="M35 9h1v1H35z"/><path fill="#62109a" d="M36 9h1v1H36z"/><path fill="#69179a" d="M37 9h1v1H37z"/><path fill="#6b1b9c" d="M38 9h1v1H38z"/><path fill="#6d1c9c" d="M39 9h1v1H39z"/><path fill="#6a189a" d="M40 9h1v1H40z"/><path fill="#701f9c" d="M41 9h1v1H41z"/><path fill="#6f1e9c" d="M42 9h1v1H42z"/><path fill="#6d1d9c" d="M43 9h1v1H43z"/><path fill="#8c3ca0" d="M44 9h1v1H44z"/><path fill="#8f3fa0" d="M45 9h1v1H45z"/><path fill="#8c3ca0" d="M46 9h1v1H46z"/><path fill="#9242a0" d="M47 9h1v1H47z"/><path fill="#bc6497" d="M48 9h1v1H48z"/><path fill="#c35f88" d="M49 9h1v1H49z"/><path fill="#c85981" d="M50 9h1v1H50z"/><path fill="#c36089" d="M51 9h1v1H51z"/><path fill="#c3638f" d="M52 9h1v1H52z"/><path fill="#a9589f" d="M53 9h1v1H53z"/><path fill="#7b2ba0" d="M54 9h1v1H54z"/><path fill="#66149a" d="M55 9h1v1H55z"/><path fill="#600e98" d="M56 9h1v1H56z"/><path fill="#68169a" d="M57 9h1v1H57z"/><path fill="#6b199a" d="M58 9h1v1H58z"/><path fill="#69179a" d="M59 9h1v1H59z"/><path fill="#c02955" d="M0 10h1v1H0z"/><path fill="#bd3c6b" d="M1 10h1v1H1z"/><path fill="#c03460" d="M2 10h1v1H2z"/><path fill="#c02551" d="M3 10h1v1H3z"/><path fill="#c02450" d="M4 10h1v1H4z"/><path fill="#c02350" d="M5 10h1v1H5z"/><path fill="#c01c4c" d="M6 10h2v1H6z"/><path fill="#c03e6e" d="M8 10h1v1H8z"/><path fill="#c02d5d" d="M9 10h1v1H9z"/><path fill="#c02653" d="M10 10h1v1H10z"/><path fill="#be3c6b" d="M11 10h1v1H11z"/><path fill="#c03160" d="M12 10h1v1H12z"/><path fill="#c02350" d="M13 10h1v1H13z"/><path fill="#c0224f" d="M14 10h1v1H14z"/><path fill="#c02450" d="M15 10h1v1H15z"/><path fill="#c02756" d="M16 10h1v1H16z"/><path fill="#c02450" d="M17 10h1v1H17z"/><path fill="#c02350" d="M18 10h1v1H18z"/><path fill="#c02451" d="M19 10h1v1H19z"/><path fill="#c42f5e" d="M20 10h1v1H20z"/><path fill="#c42f5f" d="M21 10h1v1H21z"/><path fill="#c42c5c" d="M22 10h1v1H22z"/><path fill="#c43360" d="M23 10h1v1H23z"/><path fill="#c43d6d" d="M24 10h1v1H24z"/><path fill="#c43a67" d="M25 10h1v1H25z"/><path fill="#c43763" d="M26 10h1v1H26z"/><path fill="#c43363" d="M27 10h2v1H27z"/><path fill="#c35c89" d="M29 10h1v1H29z"/><path fill="#b45f9b" d="M30 10h1v1H30z"/><path fill="#ad599c" d="M31 10h1v1H31z"/><path fill="#8c3ca0" d="M32 10h1v1H32z"/><path fill="#9f4ba0" d="M33 10h1v1H33z"/><path fill="#a24ea0" d="M34 10h1v1H34z"/><path fill="#8e3da0" d="M35 10h1v1H35z"/><path fill="#65149a" d="M36 10h1v1H36z"/><path fill="#600e99" d="M37 10h1v1H37z"/><path fill="#63129a" d="M38 10h1v1H38z"/><path fill="#68169a" d="M39 10h2v1H39z"/><path fill="#70209c" d="M41 10h1v1H41z"/><path fill="#631299" d="M42 10h1v1H42z"/><path fill="#6e1e9c" d="M43 10h1v1H43z"/><path fill="#9747a0" d="M44 10h1v1H44z"/><path fill="#b5619b" d="M45 10h1v1H45z"/><path fill="#b86498" d="M46 10h1v1H46z"/><path fill="#c06693" d="M47 10h1v1H47z"/><path fill="#c85079" d="M48 10h1v1H48z"/><path fill="#c8577f" d="M49 10h1v1H49z"/><path fill="#c85880" d="M50 10h1v1H50z"/><path fill="#c85881" d="M51 10h1v1H51z"/><path fill="#c75d85" d="M52 10h1v1H52z"/><path fill="#c16a96" d="M53 10h1v1H53z"/><path fill="#8737a0" d="M54 10h1v1H54z"/><path fill="#66149a" d="M55 10h1v1H55z"/><path fill="#63119a" d="M56 10h1v1H56z"/><path fill="#76259c" d="M57 10h1v1H57z"/><path fill="#71219c" d="M58 10h1v1H58z"/><path fill="#75259c" d="M59 10h1v1H59z"/><path fill="#c02450" d="M0 11h1v1H0z"/><path fill="#bc3b6b" d="M1 11h1v1H1z"/><path fill="#c02f5f" d="M2 11h1v1H2z"/><path fill="#c01e4e" d="M3 11h1v1H3z"/><path fill="#c02652" d="M4 11h1v1H4z"/><path fill="#c01646" d="M5 11h2v1H5z"/><path fill="#c02652" d="M7 11h1v1H7z"/><path fill="#c03d6d" d="M8 11h1v1H8z"/><path fill="#c02c5c" d="M9 11h2v1H9z"/><path fill="#c03260" d="M11 11h1v1H11z"/><path fill="#c02855" d="M12 11h1v1H12z"/><path fill="#c00f3e" d="M13 11h1v1H13z"/><path fill="#c01645" d="M14 11h1v1H14z"/><path fill="#c02653" d="M15 11h1v1H15z"/><path fill="#c02450" d="M16 11h1v1H16z"/><path fill="#c02350" d="M17 11h1v1H17z"/><path fill="#c01d4c" d="M18 11h1v1H18z"/><path fill="#c01e4d" d="M19 11h1v1H19z"/><path fill="#c4325e" d="M20 11h1v1H20z"/><path fill="#c42b5b" d="M21 11h1v1H21z"/><path fill="#c42252" d="M22 11h1v1H22z"/><path fill="#c42c5c" d="M23 11h1v1H23z"/><path fill="#c43060" d="M24 11h1v1H24z"/><path fill="#c4305f" d="M25 11h1v1H25z"/><path fill="#c42c5c" d="M26 11h2v1H26z"/><path fill="#c42a5b" d="M28 11h1v1H28z"/><path fill="#c43764" d="M29 11h1v1H29z"/><path fill="#c44c78" d="M30 11h1v1H30z"/><path fill="#c44d79" d="M31 11h1v1H31z"/><path fill="#c4537f" d="M32 11h1v1H32z"/><path fill="#c44d79" d="M33 11h1v1H33z"/><path fill="#c44c79" d="M34 11h1v1H34z"/><path fill="#c14d80" d="M35 11h1v1H35z"/><path fill="#8737a0" d="M36 11h1v1H36z"/><path fill="#69199c" d="M37 11h1v1H37z"/><path fill="#64129a" d="M38 11h1v1H38z"/><path fill="#7c2ca0" d="M39 11h2v1H39z"/><path fill="#7b2ba0" d="M41 11h1v1H41z"/><path fill="#74249c" d="M42 11h1v1H42z"/><path fill="#9f4ca0" d="M43 11h1v1H43z"/><path fill="#bf6b98" d="M44 11h1v1H44z"/><path fill="#c8567e" d="M45 11h1v1H45z"/><path fill="#c8567f" d="M46 11h1v1H46z"/><path fill="#c84b77" d="M47 11h1v1H47z"/><path fill="#c84571" d="M48 11h1v1H48z"/><path fill="#c8537b" d="M49 11h1v1H49z"/><path fill="#c8537c" d="M50 11h1v1H50z"/><path fill="#c8547c" d="M51 11h1v1H51z"/><path fill="#c85880" d="M52 11h1v1H52z"/><path fill="#c46992" d="M53 11h1v1H53z"/><path fill="#8737a0" d="M54 11h1v1H54z"/><path fill="#6d1d9c" d="M55 11h1v1H55z"/><path fill="#64139a" d="M56 11h1v1H56z"/><path fill="#71209c" d="M57 11h1v1H57z"/><path fill="#6a189a" d="M58 11h1v1H58z"/><path fill="#6b199a" d="M59 11h1v1H59z"/><path fill="#c02350" d="M0 12h1v1H0z"/><path fill="#bc3868" d="M1 12h1v1H1z"/><path fill="#c01d4d" d="M2 12h1v1H2z"/><path fill="#c02151" d="M3 12h1v1H3z"/><path fill="#c02653" d="M4 12h1v1H4z"/><path fill="#c01646" d="M5 12h2v1H5z"/><path fill="#c0204e" d="M7 12h1v1H7z"/><path fill="#c02b5b" d="M8 12h1v1H8z"/><path fill="#c02151" d="M9 12h1v1H9z"/><path fill="#c02754" d="M10 12h1v1H10z"/><path fill="#c02a59" d="M11 12h1v1H11z"/><path fill="#c01b4b" d="M12 12h1v1H12z"/><path fill="#c00636" d="M13 12h1v1H13z"/><path fill="#c01444" d="M14 12h1v1H14z"/><path fill="#c02351" d="M15 12h1v1H15z"/><path fill="#c0214f" d="M16 12h1v1H16z"/><path fill="#c01d4c" d="M17 12h1v1H17z"/><path fill="#c01646" d="M18 12h1v1H18z"/><path fill="#c02351" d="M19 12h1v1H19z"/><path fill="#c32756" d="M20 12h1v1H20z"/><path fill="#c02150" d="M21 12h1v1H21z"/><path fill="#c02250" d="M22 12h1v1H22z"/><path fill="#c02858" d="M23 12h1v1H23z"/><path fill="#c02757" d="M24 12h1v1H24z"/><path fill="#c01e4e" d="M25 12h1v1H25z"/><path fill="#c02151" d="M26 12h1v1H26z"/><path fill="#c02858" d="M27 12h1v1H27z"/><path fill="#c02757" d="M28 12h1v1H28z"/><path fill="#c01646" d="M29 12h2v1H29z"/><path fill="#c02656" d="M31 12h1v1H31z"/><path fill="#c02858" d="M32 12h1v1H32z"/><path fill="#c02b5b" d="M33 12h1v1H33z"/><path fill="#c02d5d" d="M34 12h1v1H34z"/><path fill="#c45383" d="M35 12h1v1H35z"/><path fill="#a454a0" d="M36 12h1v1H36z"/><path fill="#7a2aa0" d="M37 12h1v1H37z"/><path fill="#66159a" d="M38 12h1v1H38z"/><path fill="#7e2ea0" d="M39 12h1v1H39z"/><path fill="#8030a0" d="M40 12h1v1H40z"/><path fill="#9242a0" d="M41 12h1v1H41z"/><path fill="#ba6497" d="M42 12h1v1H42z"/><path fill="#c06a97" d="M43 12h1v1H43z"/><path fill="#c43e69" d="M44 12h1v1H44z"/><path fill="#c84a73" d="M45 12h1v1H45z"/><path fill="#c84470" d="M46 12h1v1H46z"/><path fill="#c44070" d="M47 12h1v1H47z"/><path fill="#c43d69" d="M48 12h1v1H48z"/><path fill="#c44570" d="M49 12h1v1H49z"/><path fill="#c84975" d="M50 12h1v1H50z"/><path fill="#c84a76" d="M51 12h1v1H51z"/><path fill="#c85c84" d="M52 12h1v1H52z"/><path fill="#b35f9b" d="M53 12h1v1H53z"/><path fill="#8434a0" d="M54 12h1v1H54z"/><path fill="#76269c" d="M55 12h1v1H55z"/><path fill="#70209c" d="M56 12h1v1H56z"/><path fill="#6c1c9c" d="M57 12h1v1H57z"/><path fill="#6a199a" d="M58 12h1v1H58z"/><path fill="#6f1e9c" d="M59 12h1v1H59z"/><path fill="#c01f4f" d="M0 13h1v1H0z"/><path fill="#c01c4c" d="M1 13h2v1H1z"/><path fill="#c02656" d="M3 13h2v1H3z"/><path fill="#c01d4c" d="M5 13h1v1H5z"/><path fill="#c01c4c" d="M6 13h1v1H6z"/><path fill="#c02351" d="M7 13h2v1H7z"/><path fill="#c01443" d="M9 13h1v1H9z"/><path fill="#c01d4c" d="M10 13h1v1H10z"/><path fill="#c01c4c" d="M11 13h1v1H11z"/><path fill="#c00e3e" d="M12 13h1v1H12z"/><path fill="#c00a3c" d="M13 13h1v1H13z"/><path fill="#c01545" d="M14 13h1v1H14z"/><path fill="#c02351" d="M15 13h1v1H15z"/><path fill="#c02656" d="M16 13h1v1H16z"/><path fill="#c01949" d="M17 13h1v1H17z"/><path fill="#c01c4c" d="M18 13h1v1H18z"/><path fill="#c01a49" d="M19 13h1v1H19z"/><path fill="#c01d4d" d="M20 13h2v1H20z"/><path fill="#c02a5a" d="M22 13h1v1H22z"/><path fill="#c02e5d" d="M23 13h1v1H23z"/><path fill="#c01747" d="M24 13h2v1H24z"/><path fill="#c02757" d="M26 13h2v1H26z"/><path fill="#c02353" d="M28 13h1v1H28z"/><path fill="#c01646" d="M29 13h1v1H29z"/><path fill="#c01848" d="M30 13h1v1H30z"/><path fill="#c02252" d="M31 13h1v1H31z"/><path fill="#c02353" d="M32 13h2v1H32z"/><path fill="#c02c5c" d="M34 13h1v1H34z"/><path fill="#c43f6f" d="M35 13h1v1H35z"/><path fill="#c45f8f" d="M36 13h1v1H36z"/><path fill="#8b3ba0" d="M37 13h1v1H37z"/><path fill="#6e1e9c" d="M38 13h1v1H38z"/><path fill="#8030a0" d="M39 13h1v1H39z"/><path fill="#8b3ba0" d="M40 13h1v1H40z"/><path fill="#bd6797" d="M41 13h1v1H41z"/><path fill="#c75c85" d="M42 13h1v1H42z"/><path fill="#c84b77" d="M43 13h1v1H43z"/><path fill="#c43d69" d="M44 13h1v1H44z"/><path fill="#c43c68" d="M45 13h1v1H45z"/><path fill="#c43965" d="M46 13h1v1H46z"/><path fill="#c43665" d="M47 13h1v1H47z"/><path fill="#c43c68" d="M48 13h1v1H48z"/><path fill="#c4436d" d="M49 13h1v1H49z"/><path fill="#c4456f" d="M50 13h1v1H50z"/><path fill="#c8577f" d="M51 13h1v1H51z"/><path fill="#c46892" d="M52 13h1v1H52z"/><path fill="#8b3ba0" d="M53 13h1v1H53z"/><path fill="#73239c" d="M54 13h1v1H54z"/><path fill="#8a3aa0" d="M55 13h1v1H55z"/><path fill="#72229c" d="M56 13h1v1H56z"/><path fill="#6c1c9c" d="M57 13h1v1H57z"/><path fill="#69179a" d="M58 13h1v1H58z"/><path fill="#6a189a" d="M59 13h1v1H59z"/><path fill="#c01645" d="M0 14h1v1H0z"/><path fill="#c01545" d="M1 14h1v1H1z"/><path fill="#c01646" d="M2 14h1v1H2z"/><path fill="#c02251" d="M3 14h1v1H3z"/><path fill="#c02351" d="M4 14h1v1H4z"/><path fill="#c01a4a" d="M5 14h1v1H5z"/><path fill="#c02351" d="M6 14h2v1H6z"/><path fill="#c01c4b" d="M8 14h1v1H8z"/><path fill="#c01848" d="M9 14h1v1H9z"/><path fill="#c02552" d="M10 14h1v1H10z"/><path fill="#c01c4c" d="M11 14h1v1H11z"/><path fill="#c01141" d="M12 14h1v1H12z"/><path fill="#c01747" d="M13 14h1v1H13z"/><path fill="#c01c4b" d="M14 14h1v1H14z"/><path fill="#c02653" d="M15 14h2v1H15z"/><path fill="#c01d4c" d="M17 14h2v1H17z"/><path fill="#c02352" d="M19 14h1v1H19z"/><path fill="#c0204f" d="M20 14h1v1H20z"/><path fill="#c01d4d" d="M21 14h1v1H21z"/><path fill="#c02353" d="M22 14h1v1H22z"/><path fill="#c02151" d="M23 14h1v1H23z"/><path fill="#c02050" d="M24 14h1v1H24z"/><path fill="#c02353" d="M25 14h1v1H25z"/><path fill="#c02454" d="M26 14h1v1H26z"/><path fill="#c02757" d="M27 14h1v1H27z"/><path fill="#c02353" d="M28 14h1v1H28z"/><path fill="#c01545" d="M29 14h1v1H29z"/><path fill="#c01848" d="M30 14h1v1H30z"/><path fill="#c01c4c" d="M31 14h1v1H31z"/><path fill="#c01343" d="M32 14h1v1H32z"/><path fill="#c01242" d="M33 14h1v1H33z"/><path fill="#c01141" d="M34 14h1v1H34z"/><path fill="#c02858" d="M35 14h1v1H35z"/><path fill="#c4406f" d="M36 14h1v1H36z"/><path fill="#c16493" d="M37 14h1v1H37z"/><path fill="#9242a0" d="M38 14h1v1H38z"/><path fill="#8c3ca0" d="M39 14h1v1H39z"/><path fill="#8e3ea0" d="M40 14h1v1H40z"/><path fill="#c06b97" d="M41 14h1v1H41z"/><path fill="#c84f78" d="M42 14h1v1H42z"/><path fill="#c84874" d="M43 14h1v1H43z"/><path fill="#c43161" d="M44 14h1v1H44z"/><path fill="#c43464" d="M45 14h2v1H45z"/><path fill="#c43764" d="M47 14h1v1H47z"/><path fill="#c43864" d="M48 14h1v1H48z"/><path fill="#c44069" d="M49 14h1v1H49z"/><path fill="#c44169" d="M50 14h1v1H50z"/><path fill="#c85880" d="M51 14h1v1H51z"/><path fill="#a858a0" d="M52 14h1v1H52z"/><path fill="#73239c" d="M53 14h1v1H53z"/><path fill="#69179a" d="M54 14h1v1H54z"/><path fill="#7e2e9f" d="M55 14h1v1H55z"/><path fill="#6e1d9c" d="M56 14h1v1H56z"/><path fill="#6a189a" d="M57 14h1v1H57z"/><path fill="#68169a" d="M58 14h1v1H58z"/><path fill="#67159a" d="M59 14h1v1H59z"/><path fill="#c01c4a" d="M0 15h2v1H0z"/><path fill="#c01747" d="M2 15h2v1H2z"/><path fill="#c01847" d="M4 15h1v1H4z"/><path fill="#c01c4c" d="M5 15h1v1H5z"/><path fill="#c02250" d="M6 15h1v1H6z"/><path fill="#c01848" d="M7 15h1v1H7z"/><path fill="#c00e3e" d="M8 15h1v1H8z"/><path fill="#c01848" d="M9 15h1v1H9z"/><path fill="#c02d5d" d="M10 15h1v1H10z"/><path fill="#c01f4e" d="M11 15h1v1H11z"/><path fill="#c01545" d="M12 15h1v1H12z"/><path fill="#c01848" d="M13 15h1v1H13z"/><path fill="#c01c4c" d="M14 15h1v1H14z"/><path fill="#c01d4d" d="M15 15h2v1H15z"/><path fill="#c01d4c" d="M17 15h1v1H17z"/><path fill="#c01d4d" d="M18 15h1v1H18z"/><path fill="#c02d5d" d="M19 15h1v1H19z"/><path fill="#c02a5a" d="M20 15h1v1H20z"/><path fill="#c01d4d" d="M21 15h1v1H21z"/><path fill="#c01949" d="M22 15h1v1H22z"/><path fill="#c02353" d="M23 15h2v1H23z"/><path fill="#c02757" d="M25 15h2v1H25z"/><path fill="#c02353" d="M27 15h1v1H27z"/><path fill="#c01c4c" d="M28 15h1v1H28z"/><path fill="#c01545" d="M29 15h1v1H29z"/><path fill="#c01646" d="M30 15h1v1H30z"/><path fill="#c01c4c" d="M31 15h2v1H31z"/><path fill="#c00e3e" d="M33 15h1v1H33z"/><path fill="#c01242" d="M34 15h1v1H34z"/><path fill="#c01c4c" d="M35 15h1v1H35z"/><path fill="#c02a5a" d="M36 15h1v1H36z"/><path fill="#c44a77" d="M37 15h1v1H37z"/><path fill="#c36491" d="M38 15h1v1H38z"/><path fill="#c06594" d="M39 15h1v1H39z"/><path fill="#c06b98" d="M40 15h1v1H40z"/><path fill="#c8567e" d="M41 15h1v1H41z"/><path fill="#c84571" d="M42 15h1v1H42z"/><path fill="#c43c68" d="M43 15h1v1H43z"/><path fill="#c42b5b" d="M44 15h2v1H44z"/><path fill="#c43060" d="M46 15h1v1H46z"/><path fill="#c43363" d="M47 15h1v1H47z"/><path fill="#c43463" d="M48 15h1v1H48z"/><path fill="#c43764" d="M49 15h1v1H49z"/><path fill="#c8527a" d="M50 15h1v1H50z"/><path fill="#c06c98" d="M51 15h1v1H51z"/><path fill="#8c3ca0" d="M52 15h1v1H52z"/><path fill="#6f1f9c" d="M53 15h1v1H53z"/><path fill="#610f98" d="M54 15h1v1H54z"/><path fill="#64129a" d="M55 15h1v1H55z"/><path fill="#6b1b9c" d="M56 15h1v1H56z"/><path fill="#600e98" d="M57 15h1v1H57z"/><path fill="#68169a" d="M58 15h1v1H58z"/><path fill="#6d1d9c" d="M59 15h1v1H59z"/><path fill="#c0224f" d="M0 16h2v1H0z"/><path fill="#c01c4c" d="M2 16h1v1H2z"/><path fill="#c01a4a" d="M3 16h1v1H3z"/><path fill="#c01c4c" d="M4 16h1v1H4z"/><path fill="#c01f4d" d="M5 16h1v1H5z"/><path fill="#c01c4b" d="M6 16h1v1H6z"/><path fill="#c01141" d="M7 16h1v1H7z"/><path fill="#c00e3e" d="M8 16h1v1H8z"/><path fill="#c01747" d="M9 16h1v1H9z"/><path fill="#c01f4d" d="M10 16h1v1H10z"/><path fill="#c01848" d="M11 16h1v1H11z"/><path fill="#c01b4b" d="M12 16h2v1H12z"/><path fill="#c01c4c" d="M14 16h1v1H14z"/><path fill="#c0224f" d="M15 16h2v1H15z"/><path fill="#c01c4c" d="M17 16h1v1H17z"/><path fill="#c01d4c" d="M18 16h1v1H18z"/><path fill="#c02655" d="M19 16h1v1H19z"/><path fill="#c02a5a" d="M20 16h1v1H20z"/><path fill="#c01c4c" d="M21 16h1v1H21z"/><path fill="#c01949" d="M22 16h1v1H22z"/><path fill="#c01c4c" d="M23 16h1v1H23z"/><path fill="#c02050" d="M24 16h2v1H24z"/><path fill="#c02252" d="M26 16h1v1H26z"/><path fill="#c01949" d="M27 16h1v1H27z"/><path fill="#c01646" d="M28 16h1v1H28z"/><path fill="#c02252" d="M29 16h1v1H29z"/><path fill="#c01747" d="M30 16h1v1H30z"/><path fill="#c02656" d="M31 16h1v1H31z"/><path fill="#c02353" d="M32 16h1v1H32z"/><path fill="#c01f4e" d="M33 16h2v1H33z"/><path fill="#c01d4d" d="M35 16h1v1H35z"/><path fill="#c01a4a" d="M36 16h1v1H36z"/><path fill="#c01d4d" d="M37 16h1v1H37z"/><path fill="#c02050" d="M38 16h1v1H38z"/><path fill="#c02151" d="M39 16h1v1H39z"/><path fill="#c42d5d" d="M40 16h1v1H40z"/><path fill="#c42a5a" d="M41 16h1v1H41z"/><path fill="#c42857" d="M42 16h1v1H42z"/><path fill="#c01c4c" d="M43 16h1v1H43z"/><path fill="#c01848" d="M44 16h2v1H44z"/><path fill="#c02151" d="M46 16h1v1H46z"/><path fill="#c02858" d="M47 16h2v1H47z"/><path fill="#c42b5b" d="M49 16h1v1H49z"/><path fill="#c8547c" d="M50 16h1v1H50z"/><path fill="#a858a0" d="M51 16h1v1H51z"/><path fill="#71219c" d="M52 16h1v1H52z"/><path fill="#67159a" d="M53 16h1v1H53z"/><path fill="#5c0a98" d="M54 16h1v1H54z"/><path fill="#610f98" d="M55 16h1v1H55z"/><path fill="#67159a" d="M56 16h1v1H56z"/><path fill="#600e98" d="M57 16h1v1H57z"/><path fill="#65139a" d="M58 16h1v1H58z"/><path fill="#72229c" d="M59 16h1v1H59z"/><path fill="#c01c4a" d="M0 17h1v1H0z"/><path fill="#c01949" d="M1 17h1v1H1z"/><path fill="#c01c4c" d="M2 17h3v1H2z"/><path fill="#c01b4b" d="M5 17h1v1H5z"/><path fill="#c01848" d="M6 17h1v1H6z"/><path fill="#c01242" d="M7 17h1v1H7z"/><path fill="#c00e3e" d="M8 17h1v1H8z"/><path fill="#c01545" d="M9 17h2v1H9z"/><path fill="#c01747" d="M11 17h1v1H11z"/><path fill="#c01646" d="M12 17h1v1H12z"/><path fill="#c01545" d="M13 17h1v1H13z"/><path fill="#c01948" d="M14 17h1v1H14z"/><path fill="#c01f4d" d="M15 17h1v1H15z"/><path fill="#c01c4a" d="M16 17h1v1H16z"/><path fill="#c01848" d="M17 17h1v1H17z"/><path fill="#c01b4b" d="M18 17h1v1H18z"/><path fill="#c01545" d="M19 17h1v1H19z"/><path fill="#c01949" d="M20 17h2v1H20z"/><path fill="#c01c4c" d="M22 17h1v1H22z"/><path fill="#c01f4f" d="M23 17h1v1H23z"/><path fill="#c01848" d="M24 17h1v1H24z"/><path fill="#c00a3a" d="M25 17h1v1H25z"/><path fill="#c01141" d="M26 17h1v1H26z"/><path fill="#c01242" d="M27 17h1v1H27z"/><path fill="#c01949" d="M28 17h1v1H28z"/><path fill="#c02353" d="M29 17h1v1H29z"/><path fill="#c02454" d="M30 17h2v1H30z"/><path fill="#c02151" d="M32 17h1v1H32z"/><path fill="#c02454" d="M33 17h2v1H33z"/><path fill="#c02353" d="M35 17h1v1H35z"/><path fill="#c02050" d="M36 17h3v1H36z"/><path fill="#c01e4e" d="M39 17h1v1H39z"/><path fill="#c32454" d="M40 17h1v1H40z"/><path fill="#c0214f" d="M41 17h1v1H41z"/><path fill="#c01d4c" d="M42 17h1v1H42z"/><path fill="#c00e3e" d="M43 17h1v1H43z"/><path fill="#c00a3a" d="M44 17h1v1H44z"/><path fill="#c00939" d="M45 17h1v1H45z"/><path fill="#c00636" d="M46 17h1v1H46z"/><path fill="#c01545" d="M47 17h1v1H47z"/><path fill="#c01949" d="M48 17h1v1H48z"/><path fill="#c01e4e" d="M49 17h1v1H49z"/><path fill="#c84470" d="M50 17h1v1H50z"/><path fill="#c4638f" d="M51 17h1v1H51z"/><path fill="#c16a96" d="M52 17h1v1H52z"/><path fill="#9e4aa0" d="M53 17h1v1H53z"/><path fill="#6e1e9c" d="M54 17h1v1H54z"/><path fill="#64129a" d="M55 17h1v1H55z"/><path fill="#610f98" d="M56 17h1v1H56z"/><path fill="#63119a" d="M57 17h1v1H57z"/><path fill="#68179a" d="M58 17h1v1H58z"/><path fill="#71219c" d="M59 17h1v1H59z"/><path fill="#c01c4a" d="M0 18h1v1H0z"/><path fill="#c01949" d="M1 18h1v1H1z"/><path fill="#c01b4b" d="M2 18h1v1H2z"/><path fill="#c01848" d="M3 18h1v1H3z"/><path fill="#c01545" d="M4 18h1v1H4z"/><path fill="#c01747" d="M5 18h1v1H5z"/><path fill="#c01444" d="M6 18h1v1H6z"/><path fill="#c01343" d="M7 18h1v1H7z"/><path fill="#c01c4c" d="M8 18h1v1H8z"/><path fill="#c02656" d="M9 18h1v1H9z"/><path fill="#c02a5a" d="M10 18h1v1H10z"/><path fill="#c01949" d="M11 18h1v1H11z"/><path fill="#c01545" d="M12 18h2v1H12z"/><path fill="#c01848" d="M14 18h2v1H14z"/><path fill="#c01646" d="M16 18h1v1H16z"/><path fill="#c01444" d="M17 18h2v1H17z"/><path fill="#c01141" d="M19 18h1v1H19z"/><path fill="#c01545" d="M20 18h1v1H20z"/><path fill="#c01c4c" d="M21 18h1v1H21z"/><path fill="#c01949" d="M22 18h1v1H22z"/><path fill="#c01646" d="M23 18h1v1H23z"/><path fill="#c01747" d="M24 18h1v1H24z"/><path fill="#c00737" d="M25 18h1v1H25z"/><path fill="#c00e3e" d="M26 18h1v1H26z"/><path fill="#c01848" d="M27 18h1v1H27z"/><path fill="#c01f4f" d="M28 18h1v1H28z"/><path fill="#c02050" d="M29 18h1v1H29z"/><path fill="#c02353" d="M30 18h1v1H30z"/><path fill="#c02454" d="M31 18h2v1H31z"/><path fill="#c02858" d="M33 18h2v1H33z"/><path fill="#c02454" d="M35 18h1v1H35z"/><path fill="#c02050" d="M36 18h1v1H36z"/><path fill="#c02353" d="M37 18h1v1H37z"/><path fill="#c02656" d="M38 18h1v1H38z"/><path fill="#c02353" d="M39 18h1v1H39z"/><path fill="#c01d4c" d="M40 18h1v1H40z"/><path fill="#c01c4c" d="M41 18h1v1H41z"/><path fill="#c01f4f" d="M42 18h1v1H42z"/><path fill="#c01b4b" d="M43 18h1v1H43z"/><path fill="#c00d3d" d="M44 18h1v1H44z"/><path fill="#c00636" d="M45 18h1v1H45z"/><path fill="#c00d3d" d="M46 18h1v1H46z"/><path fill="#c01040" d="M47 18h1v1H47z"/><path fill="#c01444" d="M48 18h1v1H48z"/><path fill="#c43060" d="M49 18h1v1H49z"/><path fill="#c84975" d="M50 18h1v1H50z"/><path fill="#c8426f" d="M51 18h1v1H51z"/><path fill="#c43160" d="M52 18h1v1H52z"/><path fill="#c45d89" d="M53 18h1v1H53z"/><path fill="#8f3ea0" d="M54 18h1v1H54z"/><path fill="#6d1c9c" d="M55 18h1v1H55z"/><path fill="#621098" d="M56 18h1v1H56z"/><path fill="#64129a" d="M57 18h1v1H57z"/><path fill="#6f1f9c" d="M58 18h1v1H58z"/><path fill="#72229c" d="M59 18h1v1H59z"/><path fill="#c01848" d="M0 19h1v1H0z"/><path fill="#c01c4c" d="M1 19h1v1H1z"/><path fill="#c01b4b" d="M2 19h1v1H2z"/><path fill="#c00f3f" d="M3 19h1v1H3z"/><path fill="#c01646" d="M4 19h1v1H4z"/><path fill="#c01343" d="M5 19h1v1H5z"/><path fill="#c00e3e" d="M6 19h1v1H6z"/><path fill="#c01444" d="M7 19h1v1H7z"/><path fill="#c01f4d" d="M8 19h1v1H8z"/><path fill="#c02e5d" d="M9 19h1v1H9z"/><path fill="#c02351" d="M10 19h1v1H10z"/><path fill="#c02250" d="M11 19h1v1H11z"/><path fill="#c02150" d="M12 19h1v1H12z"/><path fill="#c01b49" d="M13 19h1v1H13z"/><path fill="#c01a49" d="M14 19h1v1H14z"/><path fill="#c01747" d="M15 19h1v1H15z"/><path fill="#c01040" d="M16 19h1v1H16z"/><path fill="#c01242" d="M17 19h2v1H17z"/><path fill="#c01444" d="M19 19h1v1H19z"/><path fill="#c01545" d="M20 19h1v1H20z"/><path fill="#c02555" d="M21 19h2v1H21z"/><path fill="#c01e4e" d="M23 19h1v1H23z"/><path fill="#c01444" d="M24 19h1v1H24z"/><path fill="#c01747" d="M25 19h1v1H25z"/><path fill="#c01e4e" d="M26 19h1v1H26z"/><path fill="#c01f4f" d="M27 19h2v1H27z"/><path fill="#c01d4d" d="M29 19h1v1H29z"/><path fill="#c02151" d="M30 19h2v1H30z"/><path fill="#c02555" d="M32 19h1v1H32z"/><path fill="#c02b5b" d="M33 19h2v1H33z"/><path fill="#c02454" d="M35 19h1v1H35z"/><path fill="#c02050" d="M36 19h2v1H36z"/><path fill="#c01d4d" d="M38 19h4v1H38z"/><path fill="#c43d6d" d="M42 19h1v1H42z"/><path fill="#c42e5e" d="M43 19h1v1H43z"/><path fill="#c01848" d="M44 19h1v1H44z"/><path fill="#c01b4b" d="M45 19h1v1H45z"/><path fill="#c01848" d="M46 19h1v1H46z"/><path fill="#c01444" d="M47 19h1v1H47z"/><path fill="#c01242" d="M48 19h1v1H48z"/><path fill="#c42d5d" d="M49 19h1v1H49z"/><path fill="#c43865" d="M50 19h1v1H50z"/><path fill="#c43864" d="M51 19h1v1H51z"/><path fill="#c42757" d="M52 19h1v1H52z"/><path fill="#c75780" d="M53 19h1v1H53z"/><path fill="#9b47a0" d="M54 19h1v1H54z"/><path fill="#70209c" d="M55 19h1v1H55z"/><path fill="#67159a" d="M56 19h1v1H56z"/><path fill="#78289f" d="M57 19h1v1H57z"/><path fill="#69179a" d="M58 19h1v1H58z"/><path fill="#6c1b9c" d="M59 19h1v1H59z"/><path fill="#c01848" d="M0 20h1v1H0z"/><path fill="#c01c4a" d="M1 20h1v1H1z"/><path fill="#c01e4c" d="M2 20h1v1H2z"/><path fill="#c01242" d="M3 20h1v1H3z"/><path fill="#c0214f" d="M4 20h1v1H4z"/><path fill="#c01747" d="M5 20h1v1H5z"/><path fill="#c01343" d="M6 20h1v1H6z"/><path fill="#c01d4c" d="M7 20h1v1H7z"/><path fill="#c00f3e" d="M8 20h1v1H8z"/><path fill="#c01242" d="M9 20h1v1H9z"/><path fill="#c01444" d="M10 20h1v1H10z"/><path fill="#c01646" d="M11 20h1v1H11z"/><path fill="#c01949" d="M12 20h1v1H12z"/><path fill="#c01746" d="M13 20h1v1H13z"/><path fill="#c00e3e" d="M14 20h1v1H14z"/><path fill="#c00838" d="M15 20h1v1H15z"/><path fill="#c00b3b" d="M16 20h1v1H16z"/><path fill="#c00a3b" d="M17 20h1v1H17z"/><path fill="#c01040" d="M18 20h1v1H18z"/><path fill="#c01444" d="M19 20h1v1H19z"/><path fill="#c01848" d="M20 20h1v1H20z"/><path fill="#c01646" d="M21 20h1v1H21z"/><path fill="#c01a4a" d="M22 20h1v1H22z"/><path fill="#c01848" d="M23 20h1v1H23z"/><path fill="#c00b3b" d="M24 20h1v1H24z"/><path fill="#c01f4d" d="M25 20h1v1H25z"/><path fill="#c01c4c" d="M26 20h1v1H26z"/><path fill="#c01949" d="M27 20h2v1H27z"/><path fill="#c01d4d" d="M29 20h1v1H29z"/><path fill="#c02a5a" d="M30 20h2v1H30z"/><path fill="#c02858" d="M32 20h2v1H32z"/><path fill="#c02555" d="M34 20h1v1H34z"/><path fill="#c02454" d="M35 20h1v1H35z"/><path fill="#c02050" d="M36 20h1v1H36z"/><path fill="#c01c4c" d="M37 20h2v1H37z"/><path fill="#c01949" d="M39 20h1v1H39z"/><path fill="#c32353" d="M40 20h1v1H40z"/><path fill="#c42b5b" d="M41 20h1v1H41z"/><path fill="#c42858" d="M42 20h1v1H42z"/><path fill="#c0204f" d="M43 20h1v1H43z"/><path fill="#c01a4a" d="M44 20h1v1H44z"/><path fill="#c32a5a" d="M45 20h1v1H45z"/><path fill="#c43e6e" d="M46 20h1v1H46z"/><path fill="#c01b4b" d="M47 20h1v1H47z"/><path fill="#c02050" d="M48 20h1v1H48z"/><path fill="#c43363" d="M49 20h1v1H49z"/><path fill="#c43b67" d="M50 20h1v1H50z"/><path fill="#c43a66" d="M51 20h1v1H51z"/><path fill="#c42d5d" d="M52 20h1v1H52z"/><path fill="#c44e79" d="M53 20h1v1H53z"/><path fill="#9c48a0" d="M54 20h1v1H54z"/><path fill="#6d1d9c" d="M55 20h1v1H55z"/><path fill="#66149a" d="M56 20h1v1H56z"/><path fill="#72229c" d="M57 20h1v1H57z"/><path fill="#621098" d="M58 20h1v1H58z"/><path fill="#66149a" d="M59 20h1v1H59z"/></svg>
<svg class="g" style="left:15px;top:949px" width="1067" height="374" viewBox="0 0 1067 374" fill="#000"><circle cx="9.5" cy="131.5" r="1.5"/><circle cx="27.5" cy="126.5" r="1.5"/><circle cx="44.5" cy="125.5" r="1.5"/><circle cx="62.5" cy="133.5" r="1.5"/><circle cx="80.5" cy="133.5" r="1.5"/><circle cx="98.5" cy="138.5" r="1.5"/><circle cx="115.5" cy="151.5" r="1.5"/><circle cx="116.5" cy="151.5" r="1.5"/><circle cx="133.5" cy="157.5" r="1.5"/><circle cx="151.5" cy="162.5" r="1.5"/><circle cx="169.5" cy="164.5" r="1.5"/><circle cx="187.5" cy="162.5" r="1.5"/><circle cx="198.5" cy="151.5" r="1.5"/><circle cx="204.5" cy="142.5" r="1.5"/><circle cx="215.5" cy="133.5" r="1.5"/><circle cx="222.5" cy="128.5" r="1.5"/><circle cx="226.5" cy="133.5" r="1.5"/><circle cx="239.2" cy="151.2" r="1.5"/><circle cx="240.4" cy="152.4" r="1.5"/><circle cx="258.5" cy="161.5" r="1.5"/><circle cx="275.5" cy="161.5" r="1.5"/><circle cx="293.5" cy="160.5" r="1.5"/><circle cx="311.5" cy="155.5" r="1.5"/><circle cx="329.5" cy="154.5" r="1.5"/><circle cx="347.5" cy="157.5" r="1.5"/><circle cx="364.5" cy="162.5" r="1.5"/><circle cx="382.5" cy="154.5" r="1.5"/><circle cx="390.5" cy="151.5" r="1.5"/><circle cx="400.5" cy="148.5" r="1.5"/><circle cx="406.5" cy="151.5" r="1.5"/><circle cx="418.5" cy="161.5" r="1.5"/><circle cx="425.5" cy="169.5" r="1.5"/><circle cx="435.5" cy="175.5" r="1.5"/><circle cx="449.5" cy="169.5" r="1.5"/><circle cx="453.5" cy="166.5" r="1.5"/><circle cx="471.5" cy="161.5" r="1.5"/><circle cx="489.5" cy="164.5" r="1.5"/><circle cx="507.5" cy="166.5" r="1.5"/><circle cx="511.5" cy="169.5" r="1.5"/><circle cx="524.5" cy="177.5" r="1.5"/><circle cx="537.5" cy="187.5" r="1.5"/><circle cx="542.5" cy="191.5" r="1.5"/><circle cx="560.5" cy="193.5" r="1.5"/><circle cx="578.5" cy="197.5" r="1.5"/><circle cx="595.5" cy="194.5" r="1.5"/><circle cx="613.5" cy="195.5" r="1.5"/><circle cx="629.5" cy="204.5" r="1.5"/><circle cx="631.5" cy="207.5" r="1.5"/><circle cx="639.5" cy="222.5" r="1.5"/><circle cx="649.5" cy="234.5" r="1.5"/><circle cx="654.5" cy="240.5" r="1.5"/><circle cx="666.5" cy="258.5" r="1.5"/><circle cx="684.5" cy="268.5" r="1.5"/><circle cx="702.5" cy="269.5" r="1.5"/><circle cx="880.5" cy="157.5" r="1.5"/><circle cx="898.5" cy="152.5" r="1.5"/><circle cx="915.5" cy="159.5" r="1.5"/><circle cx="933.5" cy="155.5" r="1.5"/><circle cx="940.5" cy="169.5" r="1.5"/><circle cx="860.5" cy="169.5" r="1.5"/><circle cx="862.5" cy="168.5" r="1.5"/><circle cx="844.5" cy="182.5" r="1.5"/><circle cx="833.5" cy="187.5" r="1.5"/><circle cx="947.5" cy="187.5" r="1.5"/><circle cx="720.5" cy="274.5" r="1.5"/><circle cx="735.5" cy="258.5" r="1.5"/><circle cx="738.5" cy="248.5" r="1.5"/><circle cx="741.5" cy="240.5" r="1.5"/><circle cx="755.5" cy="222.5" r="1.5"/><circle cx="773.5" cy="216.5" r="1.5"/><circle cx="785.5" cy="204.5" r="1.5"/><circle cx="791.5" cy="199.5" r="1.5"/><circle cx="809.5" cy="191.5" r="1.5"/><circle cx="826.5" cy="189.5" r="1.5"/><circle cx="949.5" cy="204.5" r="1.5"/><circle cx="942.5" cy="222.5" r="1.5"/><circle cx="933.5" cy="240.5" r="1.5"/><circle cx="925.5" cy="258.5" r="1.5"/><circle cx="917.5" cy="275.5" r="1.5"/><circle cx="915.5" cy="280.5" r="1.5"/><circle cx="910.5" cy="293.5" r="1.5"/><circle cx="915.5" cy="301.5" r="1.5"/><circle cx="933.5" cy="309.5" r="1.5"/><circle cx="939.5" cy="311.5" r="1.5"/><circle cx="951.5" cy="319.5" r="1.5"/><circle cx="957.5" cy="329.5" r="1.5"/><circle cx="958.5" cy="347.5" r="1.5"/><circle cx="962.5" cy="364.5" r="1.5"/></svg>
<div class="rim" style="top:949px"></div>
<div class="lg"></div>
<i class="sw" style="top:707.15px;background:#fd8d3c"></i>
<i class="sw" style="top:737.55px;background:#ccffff"></i>
<i class="sw" style="top:767.95px;background:#005bff"></i>
<i class="sw" style="top:804.70px;height:3px;left:1098.6px;width:45.2px;background:#000"></i>
<i class="sw" style="top:828.05px;left:1099.0px;width:44.1px;height:17.1px;background:#9c3234;border:1.4px solid #7e1a1e;box-sizing:border-box"></i>
<div class="lt" style="top:703px;transform:scaleX(1.0)">sand</div>
<div class="lt" style="top:733px;transform:scaleX(1.09)">whitewater</div>
<div class="lt" style="top:764px;transform:scaleX(1.07)">water</div>
<div class="lt" style="top:794px;transform:scaleX(1.045)">shoreline</div>
<div class="lt" style="top:824px;transform:scaleX(1.077)">reference shoreline buffer</div>
</body></html>
